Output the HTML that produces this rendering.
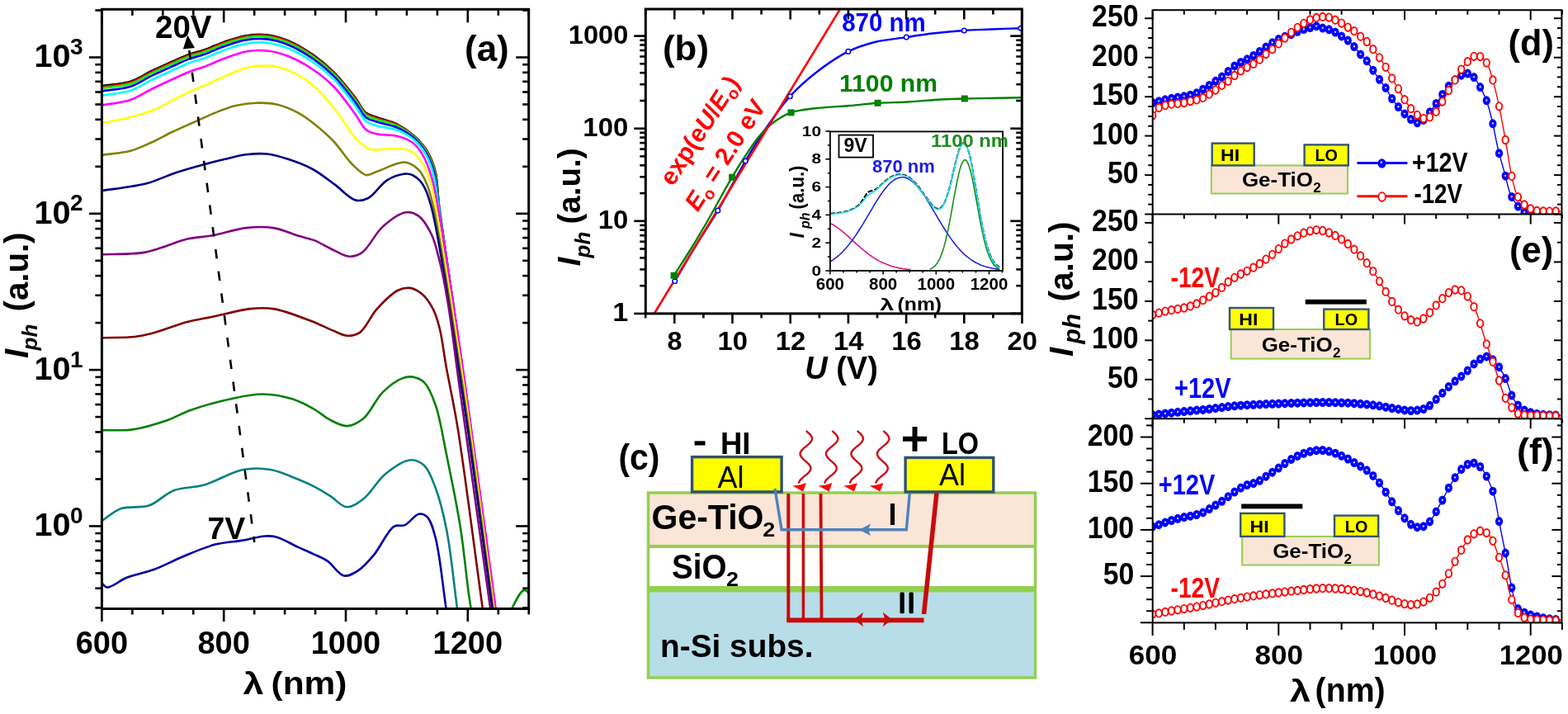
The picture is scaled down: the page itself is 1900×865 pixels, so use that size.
<!DOCTYPE html>
<html><head><meta charset="utf-8"><title>Figure</title><style>html,body{margin:0;padding:0;background:#fff;width:1900px;height:865px;overflow:hidden}svg{display:block}</style></head><body>
<svg width="1900" height="865" viewBox="0 0 1900 865">
<rect width="1900" height="865" fill="#fff"/>
<defs><clipPath id="ca"><rect x="123.4" y="11.3" width="517.3" height="726.2"/></clipPath></defs>
<g clip-path="url(#ca)" fill="none" stroke-width="2.6" stroke-linejoin="round">
<path d="M123.4,104 C135,102.2 147.7,102 158.2,98.7 C167.6,95.7 175.1,90.1 183.6,86 C192,82 201,78.1 209,74.5 C216.2,71.3 222.8,68 229.4,65.6 C235.5,63.4 240.8,62.7 247.2,60.5 C255,57.8 264.1,53.3 272.7,50.4 C281.1,47.6 289.5,44.6 298.1,43.2 C306.5,41.9 315.2,41.2 323.6,42.2 C332.2,43.2 340.3,45.5 349,49.1 C359.1,53.3 370.5,60.2 380,66.9 C389.2,73.4 397.3,80.3 405.4,88.5 C414.3,97.5 424,110.1 430.9,119 C436,125.6 438.7,133.1 443.6,136.9 C447.4,139.9 451.3,140.1 456.3,142 C463.3,144.6 474,147 481.8,150.9 C489.2,154.7 496.1,159.5 502.1,164.9 C507.9,170.2 513.2,175.9 517.4,182.7 C521.9,190.1 525.2,198.3 527.6,208 C530.6,220.1 529.8,230.7 532.2,250 C537.7,293.3 551.8,385 562.3,460 C574.4,546.6 587.6,646.7 600.3,740" stroke="#000000"/>
<path d="M123.4,105.4 C135,103.6 147.7,103.4 158.2,100 C167.6,97 175.1,91.4 183.6,87.3 C192,83.3 201,79.4 209,75.8 C216.2,72.6 222.8,69.3 229.4,66.9 C235.5,64.7 240.8,63.9 247.2,61.7 C255,59.1 264.1,54.5 272.7,51.6 C281.1,48.7 289.5,45.7 298.1,44.4 C306.5,43 315.2,42.4 323.6,43.4 C332.1,44.3 340.3,46.7 349,50.2 C359.1,54.4 370.5,61.3 380,68 C389.2,74.4 397.3,81.3 405.4,89.5 C414.3,98.5 424,111.2 430.9,120.2 C436,126.9 438.7,134.3 443.6,138.1 C447.4,141.1 451.3,141.4 456.3,143.2 C463.3,145.8 474,147.9 481.8,151.7 C489.2,155.4 496,160.1 502,165.4 C507.7,170.5 513,176.2 517.1,183 C521.6,190.4 524.8,198.6 527.3,208.3 C530.3,220.3 529.6,230.8 532.1,250 C537.7,293.2 551.8,385 562.3,460 C574.4,546.6 587.7,646.7 600.3,740" stroke="#ff0000"/>
<path d="M123.4,107.1 C135,105.2 147.7,105 158.2,101.6 C167.6,98.6 175.1,92.9 183.6,88.9 C192,84.8 201,80.9 209,77.3 C216.2,74.1 222.8,70.8 229.4,68.4 C235.5,66.2 240.8,65.4 247.2,63.2 C255,60.5 264.1,55.9 272.7,53 C281.1,50.1 289.5,47.1 298.1,45.7 C306.5,44.4 315.2,43.8 323.6,44.7 C332.1,45.7 340.3,48 349,51.6 C359.1,55.7 370.5,62.5 380,69.2 C389.2,75.7 397.3,82.5 405.4,90.8 C414.3,99.8 424,112.6 430.9,121.6 C436,128.3 438.7,135.7 443.6,139.5 C447.4,142.6 451.3,142.8 456.3,144.6 C463.3,147.1 474.1,149 481.8,152.7 C489.1,156.2 495.9,160.7 501.8,165.9 C507.5,171 512.6,176.6 516.7,183.4 C521.2,190.7 524.4,199 526.9,208.7 C530,220.6 529.4,230.9 532,250 C537.7,293 551.8,384.9 562.4,460 C574.5,546.6 587.7,646.7 600.4,740" stroke="#00ff00"/>
<path d="M123.4,110.3 C135,108.5 147.7,108.1 158.2,104.7 C167.6,101.7 175.1,96 183.6,91.9 C192,87.9 201,83.9 209,80.3 C216.2,77.1 222.8,73.8 229.4,71.4 C235.5,69.1 240.8,68.3 247.2,66 C255,63.3 264.1,58.8 272.7,55.8 C281.1,52.9 289.5,49.8 298.1,48.4 C306.5,47 315.2,46.5 323.6,47.4 C332.1,48.4 340.3,50.7 349,54.2 C359.1,58.3 370.5,65.1 380,71.7 C389.2,78.1 397.3,85 405.4,93.2 C414.3,102.3 424,115.3 430.9,124.4 C436,131.1 438.7,138.5 443.6,142.4 C447.4,145.4 451.3,145.8 456.3,147.5 C463.3,149.9 474.1,151.3 481.8,154.7 C489,157.9 495.7,162 501.4,167 C507.1,171.8 512,177.4 516,184.1 C520.4,191.4 523.7,199.7 526.2,209.3 C529.3,221.1 529.1,231.2 531.7,250 C537.8,292.8 551.9,384.9 562.4,460 C574.6,546.6 587.8,646.7 600.5,740" stroke="#0000ff"/>
<path d="M123.4,115.8 C135,113.8 147.7,113.3 158.2,109.8 C167.6,106.8 175.1,101.1 183.6,97 C192,92.9 201,88.9 209,85.2 C216.2,82 222.8,78.8 229.4,76.3 C235.5,74 240.8,73 247.2,70.8 C255,68 264.1,63.5 272.7,60.5 C281.1,57.5 289.5,54.3 298.1,52.9 C306.5,51.5 315.2,50.9 323.6,51.9 C332.1,52.8 340.3,55.1 349,58.5 C359.1,62.6 370.5,69.2 380,75.8 C389.2,82.2 397.3,89 405.4,97.2 C414.4,106.4 424,119.8 430.9,129 C436,135.8 438.7,143.2 443.6,147.1 C447.4,150.1 451.3,150.6 456.3,152.2 C463.3,154.3 474.1,154.9 481.8,157.9 C488.8,160.6 495.3,164.1 500.9,168.7 C506.3,173.3 511,178.8 514.8,185.2 C519.2,192.5 522.4,201 525,210.5 C528.3,222 528.5,231.6 531.4,250 C537.9,292.3 551.9,384.9 562.5,460 C574.9,546.6 587.9,646.7 600.6,740" stroke="#00ffff"/>
<path d="M123.4,127.5 C135,125.3 147.7,124.6 158.2,121 C167.6,117.8 175.1,112.2 183.6,108 C192,103.9 201,99.7 209,96 C216.2,92.7 222.8,89.6 229.4,87 C235.5,84.6 240.8,83.4 247.2,81 C255,78.1 264.1,73.6 272.7,70.5 C281.1,67.5 289.5,64 298.1,62.5 C306.5,61 315.2,60.6 323.6,61.5 C332.1,62.4 340.3,64.6 349,68 C359.1,71.9 370.5,78.2 380,84.7 C389.2,91 397.4,97.6 405.4,106 C414.4,115.4 424,129.6 430.9,139 C436,145.9 438.7,153.3 443.6,157.2 C447.4,160.2 451.2,161.1 456.3,162.3 C463.2,164 474.2,162.9 481.8,164.9 C488.4,166.6 494.5,168.7 499.6,172.5 C504.7,176.3 508.7,181.7 512.3,187.8 C516.5,194.9 519.6,203.7 522.5,213 C525.9,224 527.3,232.6 530.5,250 C538.1,291.3 551.9,384.9 562.8,460 C575.4,546.6 588.3,646.7 601,740" stroke="#ff00ff"/>
<path d="M123.4,149 C135,146.7 147.6,144.7 158.2,142 C167.4,139.7 175.3,137.6 183.6,134.3 C192.2,130.9 201,125.6 209,121.6 C216.2,118 222.8,114.5 229.4,111.4 C235.5,108.6 240.8,106.6 247.2,103.8 C255,100.4 264.2,95.9 272.7,92.3 C281.1,88.7 290,84.3 298.1,82.2 C305.2,80.4 311.9,79.8 318.5,79.6 C324.6,79.4 330,79.4 336.3,80.9 C344.1,82.7 354.1,87 361.7,91.1 C368.5,94.8 373.7,98.5 380,104 C388.2,111.2 397.2,121.7 405.4,131.8 C414.2,142.7 423,158.9 430.9,167.4 C436.3,173.1 441.3,178 446.2,180.1 C449.7,181.6 452.2,181.2 456.3,181.4 C462.9,181.7 474.4,179.7 481.8,180.1 C487.5,180.4 492.3,180.3 497,182.7 C502.6,185.6 508.2,191.8 512.3,198 C516.9,205 519.9,214.7 522.5,223.4 C525,232 525.3,236.9 527.6,250 C534,286.7 549.9,384.9 561,460 C573.8,546.6 586.3,646.7 599,740" stroke="#ffff00"/>
<path d="M123.4,187.8 C135,186.1 147.7,185.5 158.2,182.7 C167.5,180.2 175.2,176.3 183.6,172.5 C192.1,168.7 200.5,163.8 209,159.8 C217.5,155.8 226,152.1 234.5,148.3 C243,144.5 251.4,140.3 260,136.9 C268.4,133.6 276.8,130 285.4,128 C293.8,126 302.3,124.9 310.8,124.7 C319.3,124.5 328,124.7 336.3,126.7 C344.9,128.7 354.1,132.8 361.7,136.9 C368.5,140.6 373.6,144.5 380,149.6 C388,155.9 397.7,164.3 405.4,172.5 C412.9,180.5 418.8,191.1 425.8,198 C431.6,203.8 437.9,211 443.6,212 C448,212.8 451.4,209.7 456.3,208 C463.4,205.5 475.1,199.7 481.8,198 C485.9,197 488.4,196 492,196.7 C496.7,197.7 503.1,201.4 507.2,205.6 C511.7,210.1 514.6,216.7 517.4,223.4 C520.7,231.2 522,236.8 525,250 C533.2,286.6 548.2,384.9 559.5,460 C572.6,546.6 585.2,646.7 598,740" stroke="#808000"/>
<path d="M123.4,231 C135,229.3 148.2,227.7 158.2,226 C165.9,224.7 171.1,224.2 178.5,222.1 C187.7,219.5 199.8,213.9 209,210.7 C216.4,208.1 222.8,206.3 229.4,204.3 C235.5,202.5 240.7,200.9 247.2,199.2 C254.9,197.1 264.2,194.8 272.7,192.8 C281.2,190.8 289.6,188.3 298.1,187.3 C306.5,186.3 315.2,185.6 323.6,186.5 C332.1,187.4 340.4,190 349,192.8 C358.5,195.9 368.7,199.5 378,204.5 C387.6,209.6 396.5,217 405.4,223.4 C414.1,229.7 423.1,240.6 430.9,242.5 C436.3,243.8 441,242.6 446.2,240 C453.6,236.3 461.1,223.2 469,218.3 C475.6,214.2 483.7,211.4 489.4,210.7 C493.3,210.2 496.2,210.5 499.6,212 C503.9,214 508.8,218.3 512.3,223.4 C516.9,230 518.9,236.7 522.5,250 C532.5,286.5 546.4,384.9 558,460 C571.3,546.5 584,646.7 597,740" stroke="#000080"/>
<path d="M123.4,308.2 C134.9,307.9 148.3,308 158,307.4 C165,307 169.9,306.8 176,305.6 C182.6,304.3 188.9,302.1 196.3,299.8 C205.5,297 216.6,292 226.9,289.6 C237,287.2 246.6,287.3 257.4,285.3 C270,283 285.1,277.5 298,276.1 C309.5,274.8 320.5,274.4 331.2,276.1 C341.7,277.7 352.8,283.1 361.7,285.8 C368.6,287.8 373.5,288.4 380,290.9 C387.9,293.9 397.6,300.1 405.4,303.6 C411.8,306.5 417.5,310.4 423.3,310.7 C428.5,310.9 433.3,309.7 438.5,306.2 C446.8,300.6 454.5,282.8 464,274.4 C472.5,266.9 483.9,258.4 492,257.3 C497.6,256.5 502.6,258.4 507.2,261.6 C513.1,265.8 518.4,274.9 522.5,283.3 C527.2,292.8 529.6,304 532.7,316.3 C536.5,331.3 539.5,347.6 542.8,367.2 C547.2,393.5 550.2,420.7 555.6,460 C565.1,528.2 581.6,646.7 594.6,740" stroke="#800080"/>
<path d="M123.4,409.2 C136.7,408.8 152.3,409.2 163.3,408 C171.2,407.1 175.6,406.1 183.6,404.1 C195.4,401.1 213.6,393.6 226.9,390.1 C237.9,387.2 246.2,386.1 257.4,383.8 C271.1,380.9 289.7,375.5 303.2,374.1 C313.6,373 320.9,372.5 331.2,374.1 C344.5,376.2 362.7,383.5 376,388.5 C386.9,392.6 397.1,398 405.4,401.3 C411.3,403.6 415.6,406.5 420.7,406.7 C425.8,406.9 431.1,406.1 436,402.8 C443.2,397.9 448.7,383.4 456.3,374.9 C463.9,366.5 473.9,356 481.8,352 C487.1,349.3 492,348.2 497,348.9 C502.2,349.7 507.8,353.1 512.3,357 C517.3,361.4 521.6,368.3 525,374.9 C528.5,381.8 530.4,388.7 532.7,397.8 C536,410.8 537.8,428.4 541,446 C544.9,467.4 549.4,486.7 554.4,517.1 C563.1,570.7 574.9,665.7 585.2,740" stroke="#800000"/>
<path d="M123.4,521.1 C135.7,520.9 147.5,522.2 160.2,520.4 C174.2,518.4 191.2,513.1 203.8,508.7 C214,505.1 220.2,500.7 230.7,497 C244.7,492 265.4,486.2 281,482.9 C294.2,480.1 305.6,477.4 317.9,477.5 C330.2,477.6 343.8,480.1 354.7,483.5 C364.1,486.4 372.2,490.9 380,495.3 C387.3,499.4 393.2,505.2 400.1,508.7 C406.6,512 413.5,516.3 420.2,516.1 C427,515.9 434,512.1 440.4,507 C448.9,500.1 455.3,483.6 463.8,475.2 C471.1,468 480.2,461.2 487.3,458.4 C492.1,456.5 496.3,456 500.7,456.7 C505.3,457.5 510.2,459.5 514.1,463.4 C519.7,469 523.7,479.2 527.6,490.2 C533.2,506 536.5,528.6 541,550.6 C546.4,577 553.2,609.2 557.7,637.8 C562,665.1 565.3,700 567.8,718.3 C569.1,727.8 570,732.8 571.1,740" stroke="#008000"/>
<path d="M123.4,631.1 C131.2,626.1 137.9,619.1 146.8,616 C156.6,612.6 169.9,616.1 180.4,612.6 C191.1,609 199.5,598.4 210.5,594.2 C221.8,589.9 234.5,591.2 247.4,587.5 C262.3,583.3 279.8,571.8 294.4,569 C306.3,566.7 316.9,567.1 327.9,569 C339.2,570.9 351.9,577 361.4,580.8 C368.6,583.7 373.8,586 380,589.2 C386.7,592.6 393.5,596.8 400.1,600.9 C406.9,605.1 413.4,613.9 420.2,614.3 C426.8,614.7 433.7,609.4 440.4,604.3 C449.4,597.4 457.3,582.1 467.2,574.1 C476.4,566.7 488.7,557.8 497.4,557.3 C503.7,556.9 509.4,559.7 514.1,564 C520.1,569.5 523.6,580.2 527.6,590.8 C532.9,604.7 537.1,621.5 541,641.2 C546.5,668.5 549.9,707.1 554.4,740" stroke="#008080"/>
<path d="M123.4,706.5 C125.6,708.2 127,711.3 130,711.6 C135.3,712.1 144.8,703.2 153.5,699.8 C163.5,695.8 176,693.9 187,689.8 C198.3,685.6 208.8,679.6 220.6,674.7 C233.3,669.5 247.8,663 260.8,659.6 C272.3,656.6 283.8,656.4 294.4,654.6 C303.9,653 313.8,649.9 321.2,649.5 C326.4,649.2 329.5,649.2 334.6,650.5 C342.2,652.5 353.3,659.2 361.4,662.9 C368.2,666 374,668.4 380,671.3 C385.8,674 391.2,675.9 396.8,679.7 C403.5,684.2 410.1,696.2 416.9,697.5 C422.4,698.6 428.2,694.9 433.7,691.4 C440.6,687 447.2,679.2 453.8,671.3 C461.7,661.8 469.5,642.5 477.3,637.8 C481.8,635.1 486.3,638 490.7,636.1 C496.3,633.7 502.3,623.6 507.4,622.7 C511,622.1 514.6,623.4 517.5,626.1 C522.1,630.4 524.6,640 527.6,651.2 C533.1,671.5 536.5,710.4 541,740" stroke="#0000a0"/>
<path d="M619,740 C624,730 630,716 635,715 C638,714 640,718 642,721" stroke="#008000"/>
</g>
<path d="M229.3,61 L308.3,657" stroke="#000" stroke-width="2.6" stroke-dasharray="11.5,15.5" fill="none"/>
<path d="M227.3,42.5 L221.8,59.5 L236,58 Z" fill="#000"/>
<line x1="123.4" y1="737.5" x2="123.4" y2="753" stroke="#000" stroke-width="2.6"/>
<line x1="123.4" y1="11.3" x2="123.4" y2="27.3" stroke="#000" stroke-width="2.6"/>
<line x1="160.4" y1="737.5" x2="160.4" y2="744.5" stroke="#000" stroke-width="2.6"/>
<line x1="160.4" y1="11.3" x2="160.4" y2="18.8" stroke="#000" stroke-width="2.6"/>
<line x1="197.3" y1="737.5" x2="197.3" y2="744.5" stroke="#000" stroke-width="2.6"/>
<line x1="197.3" y1="11.3" x2="197.3" y2="18.8" stroke="#000" stroke-width="2.6"/>
<line x1="234.3" y1="737.5" x2="234.3" y2="744.5" stroke="#000" stroke-width="2.6"/>
<line x1="234.3" y1="11.3" x2="234.3" y2="18.8" stroke="#000" stroke-width="2.6"/>
<line x1="271.2" y1="737.5" x2="271.2" y2="753" stroke="#000" stroke-width="2.6"/>
<line x1="271.2" y1="11.3" x2="271.2" y2="27.3" stroke="#000" stroke-width="2.6"/>
<line x1="308.2" y1="737.5" x2="308.2" y2="744.5" stroke="#000" stroke-width="2.6"/>
<line x1="308.2" y1="11.3" x2="308.2" y2="18.8" stroke="#000" stroke-width="2.6"/>
<line x1="345.1" y1="737.5" x2="345.1" y2="744.5" stroke="#000" stroke-width="2.6"/>
<line x1="345.1" y1="11.3" x2="345.1" y2="18.8" stroke="#000" stroke-width="2.6"/>
<line x1="382.1" y1="737.5" x2="382.1" y2="744.5" stroke="#000" stroke-width="2.6"/>
<line x1="382.1" y1="11.3" x2="382.1" y2="18.8" stroke="#000" stroke-width="2.6"/>
<line x1="419" y1="737.5" x2="419" y2="753" stroke="#000" stroke-width="2.6"/>
<line x1="419" y1="11.3" x2="419" y2="27.3" stroke="#000" stroke-width="2.6"/>
<line x1="456" y1="737.5" x2="456" y2="744.5" stroke="#000" stroke-width="2.6"/>
<line x1="456" y1="11.3" x2="456" y2="18.8" stroke="#000" stroke-width="2.6"/>
<line x1="492.9" y1="737.5" x2="492.9" y2="744.5" stroke="#000" stroke-width="2.6"/>
<line x1="492.9" y1="11.3" x2="492.9" y2="18.8" stroke="#000" stroke-width="2.6"/>
<line x1="529.9" y1="737.5" x2="529.9" y2="744.5" stroke="#000" stroke-width="2.6"/>
<line x1="529.9" y1="11.3" x2="529.9" y2="18.8" stroke="#000" stroke-width="2.6"/>
<line x1="566.8" y1="737.5" x2="566.8" y2="753" stroke="#000" stroke-width="2.6"/>
<line x1="566.8" y1="11.3" x2="566.8" y2="27.3" stroke="#000" stroke-width="2.6"/>
<line x1="603.8" y1="737.5" x2="603.8" y2="744.5" stroke="#000" stroke-width="2.6"/>
<line x1="603.8" y1="11.3" x2="603.8" y2="18.8" stroke="#000" stroke-width="2.6"/>
<line x1="640.7" y1="737.5" x2="640.7" y2="744.5" stroke="#000" stroke-width="2.6"/>
<line x1="640.7" y1="11.3" x2="640.7" y2="18.8" stroke="#000" stroke-width="2.6"/>
<line x1="123.4" y1="736.4" x2="115.4" y2="736.4" stroke="#000" stroke-width="2.6"/>
<line x1="640.7" y1="736.4" x2="633.2" y2="736.4" stroke="#000" stroke-width="2.6"/>
<line x1="123.4" y1="712.7" x2="115.4" y2="712.7" stroke="#000" stroke-width="2.6"/>
<line x1="640.7" y1="712.7" x2="633.2" y2="712.7" stroke="#000" stroke-width="2.6"/>
<line x1="123.4" y1="694.4" x2="115.4" y2="694.4" stroke="#000" stroke-width="2.6"/>
<line x1="640.7" y1="694.4" x2="633.2" y2="694.4" stroke="#000" stroke-width="2.6"/>
<line x1="123.4" y1="679.4" x2="115.4" y2="679.4" stroke="#000" stroke-width="2.6"/>
<line x1="640.7" y1="679.4" x2="633.2" y2="679.4" stroke="#000" stroke-width="2.6"/>
<line x1="123.4" y1="666.7" x2="115.4" y2="666.7" stroke="#000" stroke-width="2.6"/>
<line x1="640.7" y1="666.7" x2="633.2" y2="666.7" stroke="#000" stroke-width="2.6"/>
<line x1="123.4" y1="655.7" x2="115.4" y2="655.7" stroke="#000" stroke-width="2.6"/>
<line x1="640.7" y1="655.7" x2="633.2" y2="655.7" stroke="#000" stroke-width="2.6"/>
<line x1="123.4" y1="646.1" x2="115.4" y2="646.1" stroke="#000" stroke-width="2.6"/>
<line x1="640.7" y1="646.1" x2="633.2" y2="646.1" stroke="#000" stroke-width="2.6"/>
<line x1="123.4" y1="637.4" x2="107.9" y2="637.4" stroke="#000" stroke-width="2.6"/>
<line x1="640.7" y1="637.4" x2="625.2" y2="637.4" stroke="#000" stroke-width="2.6"/>
<line x1="123.4" y1="580.4" x2="115.4" y2="580.4" stroke="#000" stroke-width="2.6"/>
<line x1="640.7" y1="580.4" x2="633.2" y2="580.4" stroke="#000" stroke-width="2.6"/>
<line x1="123.4" y1="547.1" x2="115.4" y2="547.1" stroke="#000" stroke-width="2.6"/>
<line x1="640.7" y1="547.1" x2="633.2" y2="547.1" stroke="#000" stroke-width="2.6"/>
<line x1="123.4" y1="523.4" x2="115.4" y2="523.4" stroke="#000" stroke-width="2.6"/>
<line x1="640.7" y1="523.4" x2="633.2" y2="523.4" stroke="#000" stroke-width="2.6"/>
<line x1="123.4" y1="505.1" x2="115.4" y2="505.1" stroke="#000" stroke-width="2.6"/>
<line x1="640.7" y1="505.1" x2="633.2" y2="505.1" stroke="#000" stroke-width="2.6"/>
<line x1="123.4" y1="490.1" x2="115.4" y2="490.1" stroke="#000" stroke-width="2.6"/>
<line x1="640.7" y1="490.1" x2="633.2" y2="490.1" stroke="#000" stroke-width="2.6"/>
<line x1="123.4" y1="477.4" x2="115.4" y2="477.4" stroke="#000" stroke-width="2.6"/>
<line x1="640.7" y1="477.4" x2="633.2" y2="477.4" stroke="#000" stroke-width="2.6"/>
<line x1="123.4" y1="466.4" x2="115.4" y2="466.4" stroke="#000" stroke-width="2.6"/>
<line x1="640.7" y1="466.4" x2="633.2" y2="466.4" stroke="#000" stroke-width="2.6"/>
<line x1="123.4" y1="456.8" x2="115.4" y2="456.8" stroke="#000" stroke-width="2.6"/>
<line x1="640.7" y1="456.8" x2="633.2" y2="456.8" stroke="#000" stroke-width="2.6"/>
<line x1="123.4" y1="448.1" x2="107.9" y2="448.1" stroke="#000" stroke-width="2.6"/>
<line x1="640.7" y1="448.1" x2="625.2" y2="448.1" stroke="#000" stroke-width="2.6"/>
<line x1="123.4" y1="391.1" x2="115.4" y2="391.1" stroke="#000" stroke-width="2.6"/>
<line x1="640.7" y1="391.1" x2="633.2" y2="391.1" stroke="#000" stroke-width="2.6"/>
<line x1="123.4" y1="357.8" x2="115.4" y2="357.8" stroke="#000" stroke-width="2.6"/>
<line x1="640.7" y1="357.8" x2="633.2" y2="357.8" stroke="#000" stroke-width="2.6"/>
<line x1="123.4" y1="334.1" x2="115.4" y2="334.1" stroke="#000" stroke-width="2.6"/>
<line x1="640.7" y1="334.1" x2="633.2" y2="334.1" stroke="#000" stroke-width="2.6"/>
<line x1="123.4" y1="315.8" x2="115.4" y2="315.8" stroke="#000" stroke-width="2.6"/>
<line x1="640.7" y1="315.8" x2="633.2" y2="315.8" stroke="#000" stroke-width="2.6"/>
<line x1="123.4" y1="300.8" x2="115.4" y2="300.8" stroke="#000" stroke-width="2.6"/>
<line x1="640.7" y1="300.8" x2="633.2" y2="300.8" stroke="#000" stroke-width="2.6"/>
<line x1="123.4" y1="288.1" x2="115.4" y2="288.1" stroke="#000" stroke-width="2.6"/>
<line x1="640.7" y1="288.1" x2="633.2" y2="288.1" stroke="#000" stroke-width="2.6"/>
<line x1="123.4" y1="277.1" x2="115.4" y2="277.1" stroke="#000" stroke-width="2.6"/>
<line x1="640.7" y1="277.1" x2="633.2" y2="277.1" stroke="#000" stroke-width="2.6"/>
<line x1="123.4" y1="267.5" x2="115.4" y2="267.5" stroke="#000" stroke-width="2.6"/>
<line x1="640.7" y1="267.5" x2="633.2" y2="267.5" stroke="#000" stroke-width="2.6"/>
<line x1="123.4" y1="258.8" x2="107.9" y2="258.8" stroke="#000" stroke-width="2.6"/>
<line x1="640.7" y1="258.8" x2="625.2" y2="258.8" stroke="#000" stroke-width="2.6"/>
<line x1="123.4" y1="201.8" x2="115.4" y2="201.8" stroke="#000" stroke-width="2.6"/>
<line x1="640.7" y1="201.8" x2="633.2" y2="201.8" stroke="#000" stroke-width="2.6"/>
<line x1="123.4" y1="168.5" x2="115.4" y2="168.5" stroke="#000" stroke-width="2.6"/>
<line x1="640.7" y1="168.5" x2="633.2" y2="168.5" stroke="#000" stroke-width="2.6"/>
<line x1="123.4" y1="144.8" x2="115.4" y2="144.8" stroke="#000" stroke-width="2.6"/>
<line x1="640.7" y1="144.8" x2="633.2" y2="144.8" stroke="#000" stroke-width="2.6"/>
<line x1="123.4" y1="126.5" x2="115.4" y2="126.5" stroke="#000" stroke-width="2.6"/>
<line x1="640.7" y1="126.5" x2="633.2" y2="126.5" stroke="#000" stroke-width="2.6"/>
<line x1="123.4" y1="111.5" x2="115.4" y2="111.5" stroke="#000" stroke-width="2.6"/>
<line x1="640.7" y1="111.5" x2="633.2" y2="111.5" stroke="#000" stroke-width="2.6"/>
<line x1="123.4" y1="98.8" x2="115.4" y2="98.8" stroke="#000" stroke-width="2.6"/>
<line x1="640.7" y1="98.8" x2="633.2" y2="98.8" stroke="#000" stroke-width="2.6"/>
<line x1="123.4" y1="87.8" x2="115.4" y2="87.8" stroke="#000" stroke-width="2.6"/>
<line x1="640.7" y1="87.8" x2="633.2" y2="87.8" stroke="#000" stroke-width="2.6"/>
<line x1="123.4" y1="78.2" x2="115.4" y2="78.2" stroke="#000" stroke-width="2.6"/>
<line x1="640.7" y1="78.2" x2="633.2" y2="78.2" stroke="#000" stroke-width="2.6"/>
<line x1="123.4" y1="69.5" x2="107.9" y2="69.5" stroke="#000" stroke-width="2.6"/>
<line x1="640.7" y1="69.5" x2="625.2" y2="69.5" stroke="#000" stroke-width="2.6"/>
<line x1="123.4" y1="12.5" x2="115.4" y2="12.5" stroke="#000" stroke-width="2.6"/>
<line x1="640.7" y1="12.5" x2="633.2" y2="12.5" stroke="#000" stroke-width="2.6"/>
<rect x="123.4" y="11.3" width="517.3" height="726.2" fill="none" stroke="#000" stroke-width="3"/>
<text x="41.6" y="649.2" font-family="'Liberation Sans', Arial, sans-serif" font-weight="bold" font-size="39" textLength="44" lengthAdjust="spacingAndGlyphs">10</text>
<text x="85" y="633.8" font-size="28" font-weight="bold" fill="#000" text-anchor="start" font-family="'Liberation Sans', Arial, sans-serif">0</text>
<text x="41.6" y="459.9" font-family="'Liberation Sans', Arial, sans-serif" font-weight="bold" font-size="39" textLength="44" lengthAdjust="spacingAndGlyphs">10</text>
<text x="85" y="444.5" font-size="28" font-weight="bold" fill="#000" text-anchor="start" font-family="'Liberation Sans', Arial, sans-serif">1</text>
<text x="41.6" y="270.6" font-family="'Liberation Sans', Arial, sans-serif" font-weight="bold" font-size="39" textLength="44" lengthAdjust="spacingAndGlyphs">10</text>
<text x="85" y="255.2" font-size="28" font-weight="bold" fill="#000" text-anchor="start" font-family="'Liberation Sans', Arial, sans-serif">2</text>
<text x="41.6" y="81.3" font-family="'Liberation Sans', Arial, sans-serif" font-weight="bold" font-size="39" textLength="44" lengthAdjust="spacingAndGlyphs">10</text>
<text x="85" y="65.9" font-size="28" font-weight="bold" fill="#000" text-anchor="start" font-family="'Liberation Sans', Arial, sans-serif">3</text>
<text x="123.4" y="792.2" font-size="38" font-weight="bold" fill="#000" text-anchor="middle" font-family="'Liberation Sans', Arial, sans-serif">600</text>
<text x="271.2" y="792.2" font-size="38" font-weight="bold" fill="#000" text-anchor="middle" font-family="'Liberation Sans', Arial, sans-serif">800</text>
<text x="419" y="792.2" font-size="38" font-weight="bold" fill="#000" text-anchor="middle" font-family="'Liberation Sans', Arial, sans-serif">1000</text>
<text x="566.8" y="792.2" font-size="38" font-weight="bold" fill="#000" text-anchor="middle" font-family="'Liberation Sans', Arial, sans-serif">1200</text>
<text x="294.5" y="841.2" font-family="'Liberation Sans', Arial, sans-serif" font-weight="bold" font-size="37" textLength="25" lengthAdjust="spacingAndGlyphs">&#955;</text>
<text x="328.5" y="841.2" font-family="'Liberation Sans', Arial, sans-serif" font-weight="bold" font-size="39.5" textLength="92" lengthAdjust="spacingAndGlyphs">(nm)</text>
<text transform="translate(34,434) rotate(-90)" font-family="'Liberation Sans', Arial, sans-serif" font-weight="bold" font-style="italic" font-size="40">I</text>
<text transform="translate(45,424.5) rotate(-90)" font-family="'Liberation Sans', Arial, sans-serif" font-weight="bold" font-style="italic" font-size="26">ph</text>
<text transform="translate(34,377.5) rotate(-90)" font-family="'Liberation Sans', Arial, sans-serif" font-weight="bold" font-size="40" textLength="96" lengthAdjust="spacingAndGlyphs">(a.u.)</text>
<text x="563" y="74.2" font-size="44" font-weight="bold" fill="#000" text-anchor="start" font-family="'Liberation Sans', Arial, sans-serif">(a)</text>
<text x="188" y="46.1" font-size="38.5" font-weight="bold" fill="#000" text-anchor="start" font-family="'Liberation Sans', Arial, sans-serif">20V</text>
<text x="251.5" y="652.9" font-size="37.5" font-weight="bold" fill="#000" text-anchor="start" font-family="'Liberation Sans', Arial, sans-serif">7V</text>
<defs><clipPath id="cb"><rect x="782.3" y="11" width="456" height="368.9"/></clipPath></defs>
<g clip-path="url(#cb)">
<path d="M817.7,340.7 C826.1,326.5 834.4,312.2 843,298 C851.7,283.7 860.6,270.7 869.8,255.1 C880.6,236.9 893.2,212.2 903.3,195 C911.1,181.7 916.8,172.1 925,160 C934.4,146.1 945.9,129.3 957.3,116.7 C967.6,105.3 978.3,96 990,87 C1001.8,77.9 1015.3,68.6 1027.8,62.4 C1038.6,57 1048.7,53.9 1060,51 C1072.1,48 1086.1,46.9 1098.3,45.1 C1109.4,43.4 1118.9,41.8 1130,40.5 C1142.1,39.1 1156.1,37.8 1168.3,37 C1179.4,36.2 1189,36 1200,35.5 C1211.9,35 1224.7,34.6 1237,34.2" stroke="#0000ff" stroke-width="2.4" fill="none"/>
<path d="M816.6,333.8 C824.4,321.5 832.6,309.1 840,297 C847,285.5 852.9,275.4 860,263 C868.4,248.3 878.9,228.6 887.1,214.7 C893.5,203.8 899.2,194.7 905,186 C910.1,178.4 914.7,171.2 920,165 C924.8,159.4 929.1,154.5 935,150 C941.7,144.9 949.8,139.6 958.5,136.4 C968,133 978.8,132.4 990,131 C1002.5,129.5 1017.3,129.1 1030,128 C1041.7,127 1052.2,125.5 1063.6,124.8 C1075.5,124 1087.6,124.2 1100,123.5 C1113,122.8 1127.8,121.2 1140,120.5 C1150.4,119.9 1159,119.7 1168.8,119.5 C1179,119.2 1189.2,119.2 1200,119 C1211.8,118.8 1224.7,118.5 1237,118.3" stroke="#008000" stroke-width="2.4" fill="none"/>
<path d="M792.7,380 L1018,11" stroke="#ff0000" stroke-width="2.6" fill="none"/>
<circle cx="817.7" cy="340.7" r="2.8" fill="#fff" stroke="#0000ff" stroke-width="1.5"/>
<circle cx="869.8" cy="255.1" r="2.8" fill="#fff" stroke="#0000ff" stroke-width="1.5"/>
<circle cx="903.3" cy="195" r="2.8" fill="#fff" stroke="#0000ff" stroke-width="1.5"/>
<circle cx="957.3" cy="116.7" r="2.8" fill="#fff" stroke="#0000ff" stroke-width="1.5"/>
<circle cx="1027.8" cy="62.4" r="2.8" fill="#fff" stroke="#0000ff" stroke-width="1.5"/>
<circle cx="1098.3" cy="45.1" r="2.8" fill="#fff" stroke="#0000ff" stroke-width="1.5"/>
<circle cx="1168.3" cy="37" r="2.8" fill="#fff" stroke="#0000ff" stroke-width="1.5"/>
<circle cx="1237" cy="34.2" r="2.8" fill="#fff" stroke="#0000ff" stroke-width="1.5"/>
<rect x="812.6" y="329.8" width="8" height="8" fill="#008000"/>
<rect x="883.1" y="210.7" width="8" height="8" fill="#008000"/>
<rect x="954.5" y="132.4" width="8" height="8" fill="#008000"/>
<rect x="1059.6" y="120.8" width="8" height="8" fill="#008000"/>
<rect x="1164.8" y="115.5" width="8" height="8" fill="#008000"/>
</g>
<text x="1020.2" y="37.5" font-family="'Liberation Sans', Arial, sans-serif" font-weight="bold" font-size="31" fill="#0000ff" textLength="101.5" lengthAdjust="spacingAndGlyphs">870 nm</text>
<text x="1017" y="111" font-family="'Liberation Sans', Arial, sans-serif" font-weight="bold" font-size="30" fill="#008000" textLength="119" lengthAdjust="spacingAndGlyphs">1100 nm</text>
<text transform="translate(815.2,226.8) rotate(-57)" font-family="'Liberation Sans', Arial, sans-serif" font-weight="bold" font-size="30" fill="#ff0000">exp(e<tspan font-style="italic">U</tspan>/<tspan font-style="italic">E</tspan><tspan font-size="20" dy="6">o</tspan><tspan dy="-6">)</tspan></text>
<text transform="translate(845.4,257.5) rotate(-57)" font-family="'Liberation Sans', Arial, sans-serif" font-weight="bold" font-size="30" fill="#ff0000"><tspan font-style="italic">E</tspan><tspan font-size="20" dy="6">o</tspan><tspan dy="-6"> = 2.0 eV</tspan></text>
<rect x="1005.9" y="159.4" width="209.2" height="168.6" fill="#fff" stroke="none"/>
<line x1="1005.9" y1="328" x2="1005.9" y2="332.5" stroke="#000" stroke-width="1.6"/>
<line x1="1021.9" y1="328" x2="1021.9" y2="330.5" stroke="#000" stroke-width="1.6"/>
<line x1="1038" y1="328" x2="1038" y2="330.5" stroke="#000" stroke-width="1.6"/>
<line x1="1054" y1="328" x2="1054" y2="330.5" stroke="#000" stroke-width="1.6"/>
<line x1="1070.1" y1="328" x2="1070.1" y2="332.5" stroke="#000" stroke-width="1.6"/>
<line x1="1086.2" y1="328" x2="1086.2" y2="330.5" stroke="#000" stroke-width="1.6"/>
<line x1="1102.2" y1="328" x2="1102.2" y2="330.5" stroke="#000" stroke-width="1.6"/>
<line x1="1118.2" y1="328" x2="1118.2" y2="330.5" stroke="#000" stroke-width="1.6"/>
<line x1="1134.3" y1="328" x2="1134.3" y2="332.5" stroke="#000" stroke-width="1.6"/>
<line x1="1150.3" y1="328" x2="1150.3" y2="330.5" stroke="#000" stroke-width="1.6"/>
<line x1="1166.4" y1="328" x2="1166.4" y2="330.5" stroke="#000" stroke-width="1.6"/>
<line x1="1182.5" y1="328" x2="1182.5" y2="330.5" stroke="#000" stroke-width="1.6"/>
<line x1="1198.5" y1="328" x2="1198.5" y2="332.5" stroke="#000" stroke-width="1.6"/>
<line x1="1214.5" y1="328" x2="1214.5" y2="330.5" stroke="#000" stroke-width="1.6"/>
<line x1="1005.9" y1="328" x2="1000.4" y2="328" stroke="#000" stroke-width="1.6"/>
<line x1="1005.9" y1="311.1" x2="1002.9" y2="311.1" stroke="#000" stroke-width="1.6"/>
<line x1="1005.9" y1="294.2" x2="1000.4" y2="294.2" stroke="#000" stroke-width="1.6"/>
<line x1="1005.9" y1="277.3" x2="1002.9" y2="277.3" stroke="#000" stroke-width="1.6"/>
<line x1="1005.9" y1="260.4" x2="1000.4" y2="260.4" stroke="#000" stroke-width="1.6"/>
<line x1="1005.9" y1="243.5" x2="1002.9" y2="243.5" stroke="#000" stroke-width="1.6"/>
<line x1="1005.9" y1="226.6" x2="1000.4" y2="226.6" stroke="#000" stroke-width="1.6"/>
<line x1="1005.9" y1="209.7" x2="1002.9" y2="209.7" stroke="#000" stroke-width="1.6"/>
<line x1="1005.9" y1="192.8" x2="1000.4" y2="192.8" stroke="#000" stroke-width="1.6"/>
<line x1="1005.9" y1="175.9" x2="1002.9" y2="175.9" stroke="#000" stroke-width="1.6"/>
<line x1="1005.9" y1="159" x2="1000.4" y2="159" stroke="#000" stroke-width="1.6"/>
<text x="995" y="333.6" font-size="16" font-weight="bold" text-anchor="end" font-family="'Liberation Sans', Arial, sans-serif" transform="translate(995,0) scale(1.3,1) translate(-995,0)">0</text>
<text x="995" y="299.8" font-size="16" font-weight="bold" text-anchor="end" font-family="'Liberation Sans', Arial, sans-serif" transform="translate(995,0) scale(1.3,1) translate(-995,0)">2</text>
<text x="995" y="266" font-size="16" font-weight="bold" text-anchor="end" font-family="'Liberation Sans', Arial, sans-serif" transform="translate(995,0) scale(1.3,1) translate(-995,0)">4</text>
<text x="995" y="232.2" font-size="16" font-weight="bold" text-anchor="end" font-family="'Liberation Sans', Arial, sans-serif" transform="translate(995,0) scale(1.3,1) translate(-995,0)">6</text>
<text x="995" y="198.4" font-size="16" font-weight="bold" text-anchor="end" font-family="'Liberation Sans', Arial, sans-serif" transform="translate(995,0) scale(1.3,1) translate(-995,0)">8</text>
<text x="995" y="164.6" font-size="16" font-weight="bold" text-anchor="end" font-family="'Liberation Sans', Arial, sans-serif" transform="translate(995,0) scale(1.3,1) translate(-995,0)">10</text>
<text x="1005.9" y="351.2" font-size="20.5" font-weight="bold" fill="#000" text-anchor="middle" font-family="'Liberation Sans', Arial, sans-serif">600</text>
<text x="1070.1" y="351.2" font-size="20.5" font-weight="bold" fill="#000" text-anchor="middle" font-family="'Liberation Sans', Arial, sans-serif">800</text>
<text x="1134.3" y="351.2" font-size="20.5" font-weight="bold" fill="#000" text-anchor="middle" font-family="'Liberation Sans', Arial, sans-serif">1000</text>
<text x="1198.5" y="351.2" font-size="20.5" font-weight="bold" fill="#000" text-anchor="middle" font-family="'Liberation Sans', Arial, sans-serif">1200</text>
<text x="1066.2" y="375.8" font-family="'Liberation Sans', Arial, sans-serif" font-weight="bold" font-size="21" textLength="17" lengthAdjust="spacingAndGlyphs">&#955;</text>
<text x="1087.6" y="375.8" font-family="'Liberation Sans', Arial, sans-serif" font-weight="bold" font-size="22" textLength="53.5" lengthAdjust="spacingAndGlyphs">(nm)</text>
<text transform="translate(974.2,288.5) rotate(-90)" font-family="'Liberation Sans', Arial, sans-serif" font-weight="bold" font-style="italic" font-size="23">I</text>
<text transform="translate(980.7,277) rotate(-90)" font-family="'Liberation Sans', Arial, sans-serif" font-weight="bold" font-style="italic" font-size="16">ph</text>
<text transform="translate(974.2,253.5) rotate(-90)" font-family="'Liberation Sans', Arial, sans-serif" font-weight="bold" font-size="23" textLength="53" lengthAdjust="spacingAndGlyphs">(a.u.)</text>
<defs><clipPath id="ci"><rect x="1005.9" y="159.4" width="209.2" height="168.6"/></clipPath></defs>
<g clip-path="url(#ci)" fill="none" stroke-width="1.6">
<polyline points="1005.9,270.5 1007.2,271.1 1008.5,271.8 1009.8,272.5 1011,273.3 1012.3,274.1 1013.6,275 1014.9,275.9 1016.2,276.8 1017.5,277.7 1018.7,278.7 1020,279.8 1021.3,280.8 1022.6,281.9 1023.9,283 1025.2,284.1 1026.4,285.3 1027.7,286.4 1029,287.6 1030.3,288.7 1031.6,289.9 1032.9,291.1 1034.1,292.3 1035.4,293.4 1036.7,294.6 1038,295.8 1039.3,296.9 1040.6,298.1 1041.9,299.2 1043.1,300.3 1044.4,301.4 1045.7,302.5 1047,303.6 1048.3,304.6 1049.6,305.6 1050.8,306.6 1052.1,307.6 1053.4,308.6 1054.7,309.5 1056,310.4 1057.3,311.3 1058.5,312.1 1059.8,312.9 1061.1,313.7 1062.4,314.5 1063.7,315.2 1065,315.9 1066.2,316.6 1067.5,317.3 1068.8,317.9 1070.1,318.5 1071.4,319.1 1072.7,319.6 1074,320.1 1075.2,320.6 1076.5,321.1 1077.8,321.6 1079.1,322 1080.4,322.4 1081.7,322.8 1082.9,323.1 1084.2,323.5 1085.5,323.8 1086.8,324.1 1088.1,324.4 1089.4,324.6 1090.6,324.9 1091.9,325.1 1093.2,325.4 1094.5,325.6 1095.8,325.7 1097.1,325.9 1098.3,326.1 1099.6,326.2 1100.9,326.4 1102.2,326.5 1103.5,326.7" stroke="#e0157f"/>
<polyline points="1005.9,317 1007.2,316.3 1008.5,315.5 1009.8,314.6 1011,313.7 1012.3,312.7 1013.6,311.7 1014.9,310.7 1016.2,309.6 1017.5,308.5 1018.7,307.3 1020,306.1 1021.3,304.8 1022.6,303.4 1023.9,302 1025.2,300.6 1026.4,299.1 1027.7,297.6 1029,296 1030.3,294.3 1031.6,292.6 1032.9,290.9 1034.1,289.1 1035.4,287.3 1036.7,285.4 1038,283.5 1039.3,281.5 1040.6,279.5 1041.9,277.5 1043.1,275.5 1044.4,273.4 1045.7,271.3 1047,269.2 1048.3,267 1049.6,264.8 1050.8,262.7 1052.1,260.5 1053.4,258.3 1054.7,256.1 1056,254 1057.3,251.8 1058.5,249.6 1059.8,247.5 1061.1,245.4 1062.4,243.3 1063.7,241.3 1065,239.3 1066.2,237.4 1067.5,235.5 1068.8,233.6 1070.1,231.9 1071.4,230.1 1072.7,228.5 1074,226.9 1075.2,225.4 1076.5,224 1077.8,222.7 1079.1,221.5 1080.4,220.3 1081.7,219.3 1082.9,218.4 1084.2,217.5 1085.5,216.8 1086.8,216.2 1088.1,215.7 1089.4,215.3 1090.6,215 1091.9,214.8 1093.2,214.8 1094.5,214.8 1095.8,215 1097.1,215.3 1098.3,215.7 1099.6,216.2 1100.9,216.8 1102.2,217.5 1103.5,218.4 1104.8,219.3 1106.1,220.3 1107.3,221.5 1108.6,222.7 1109.9,224 1111.2,225.4 1112.5,226.9 1113.8,228.5 1115,230.1 1116.3,231.9 1117.6,233.6 1118.9,235.5 1120.2,237.4 1121.5,239.3 1122.7,241.3 1124,243.3 1125.3,245.4 1126.6,247.5 1127.9,249.6 1129.2,251.8 1130.4,254 1131.7,256.1 1133,258.3 1134.3,260.5 1135.6,262.7 1136.9,264.8 1138.2,267 1139.4,269.2 1140.7,271.3 1142,273.4 1143.3,275.5 1144.6,277.5 1145.9,279.5 1147.1,281.5 1148.4,283.5 1149.7,285.4 1151,287.3 1152.3,289.1 1153.6,290.9 1154.8,292.6 1156.1,294.3 1157.4,296 1158.7,297.6 1160,299.1 1161.3,300.6 1162.5,302 1163.8,303.4 1165.1,304.8 1166.4,306.1 1167.7,307.3 1169,308.5 1170.3,309.6 1171.5,310.7 1172.8,311.7 1174.1,312.7 1175.4,313.7 1176.7,314.6 1178,315.5 1179.2,316.3 1180.5,317 1181.8,317.8 1183.1,318.5 1184.4,319.1 1185.7,319.7 1186.9,320.3 1188.2,320.9 1189.5,321.4 1190.8,321.9 1192.1,322.3 1193.4,322.8 1194.6,323.2 1195.9,323.5 1197.2,323.9 1198.5,324.2 1199.8,324.5 1201.1,324.8 1202.4,325.1 1203.6,325.3 1204.9,325.5 1206.2,325.7 1207.5,325.9 1208.8,326.1 1210.1,326.3 1211.3,326.4" stroke="#2323e0"/>
<polyline points="1126.6,326.2 1127.9,325.7 1129.2,325 1130.4,324.2 1131.7,323.2 1133,322.1 1134.3,320.6 1135.6,318.9 1136.9,316.9 1138.2,314.5 1139.4,311.7 1140.7,308.6 1142,305 1143.3,300.9 1144.6,296.4 1145.9,291.4 1147.1,286 1148.4,280.1 1149.7,273.8 1151,267.2 1152.3,260.3 1153.6,253.2 1154.8,246.1 1156.1,238.9 1157.4,231.8 1158.7,225 1160,218.6 1161.3,212.7 1162.5,207.4 1163.8,202.8 1165.1,199.1 1166.4,196.3 1167.7,194.5 1169,193.7 1170.3,193.9 1171.5,195.2 1172.8,197.6 1174.1,200.8 1175.4,205 1176.7,209.9 1178,215.6 1179.2,221.7 1180.5,228.4 1181.8,235.3 1183.1,242.5 1184.4,249.7 1185.7,256.8 1186.9,263.8 1188.2,270.6 1189.5,277 1190.8,283.1 1192.1,288.8 1193.4,294 1194.6,298.7 1195.9,303 1197.2,306.8 1198.5,310.2 1199.8,313.2 1201.1,315.7 1202.4,317.9 1203.6,319.8 1204.9,321.4 1206.2,322.7 1207.5,323.8 1208.8,324.7 1210.1,325.4 1211.3,326" stroke="#189018"/>
<polyline points="1005.9,258.9 1007.2,258.7 1008.5,258.6 1009.8,258.4 1011,258.3 1012.3,258.2 1013.6,258 1014.9,257.9 1016.2,257.7 1017.5,257.5 1018.7,257.4 1020,257.1 1021.3,256.9 1022.6,256.7 1023.9,256.4 1025.2,256 1026.4,255.7 1027.7,255.3 1029,254.9 1030.3,254.4 1031.6,253.9 1032.9,253.3 1034.1,252.7 1035.4,252 1036.7,251.3 1038,250.4 1039.3,249.5 1040.6,248.3 1041.9,247 1043.1,245.5 1044.4,243.7 1045.7,241.7 1047,239.6 1048.3,237.5 1049.6,235.6 1050.8,234 1052.1,232.8 1053.4,232 1054.7,231.5 1056,231.2 1057.3,231 1058.5,230.6 1059.8,230.1 1061.1,229.4 1062.4,228.5 1063.7,227.5 1065,226.4 1066.2,225.2 1067.5,224 1068.8,222.8 1070.1,221.7 1071.4,220.5 1072.7,219.4 1074,218.4 1075.2,217.4 1076.5,216.5 1077.8,215.6 1079.1,214.8 1080.4,214.1 1081.7,213.4 1082.9,212.8 1084.2,212.3 1085.5,211.9 1086.8,211.6 1088.1,211.4 1089.4,211.3 1090.6,211.2 1091.9,211.3 1093.2,211.4 1094.5,211.7 1095.8,212.1 1097.1,212.5 1098.3,213.1 1099.6,213.8 1100.9,214.5 1102.2,215.4 1103.5,216.3 1104.8,217.4 1106.1,218.5 1107.3,219.8 1108.6,221.1 1109.9,222.5 1111.2,224 1112.5,225.5 1113.8,227.2 1115,228.9 1116.3,230.7 1117.6,232.5 1118.9,234.4 1120.2,236.3 1121.5,238.3 1122.7,239.5 1124,241.3 1125.3,243.1 1126.6,244.8 1127.9,246.4 1129.2,248 1130.4,249.3 1131.7,250.5 1133,251.5 1134.3,252.3 1135.6,252.8 1136.9,252.9 1138.2,252.7 1139.4,252.1 1140.7,251.1 1142,249.6 1143.3,247.7 1144.6,245.2 1145.9,242.3 1147.1,238.8 1148.4,234.9 1149.7,230.5 1151,225.8 1152.3,220.7 1153.6,215.4 1154.8,210 1156.1,204.5 1157.4,199.1 1158.7,193.9 1160,189 1161.3,184.6 1162.5,180.7 1163.8,177.5 1165.1,175.2 1166.4,173.6 1167.7,173.1 1169,173.5 1170.3,174.9 1171.5,177.3 1172.8,180.6 1174.1,184.9 1175.4,190 1176.7,195.8 1178,202.3 1179.2,209.3 1180.5,216.7 1181.8,224.4 1183.1,232.2 1184.4,240.1 1185.7,247.9 1186.9,255.4 1188.2,262.8 1189.5,269.7 1190.8,276.3 1192.1,282.4 1193.4,288.1 1194.6,293.2 1195.9,297.9 1197.2,302 1198.5,305.7 1199.8,309 1201.1,311.8 1202.4,314.3 1203.6,316.4 1204.9,318.2 1206.2,319.7 1207.5,321 1208.8,322.1 1210.1,323 1211.3,323.7" stroke="#000" stroke-width="2" stroke-dasharray="6,2"/>
<polyline points="1005.9,259.6 1007.2,259.4 1008.5,259.3 1009.8,259.1 1011,259 1012.3,258.8 1013.6,258.7 1014.9,258.6 1016.2,258.4 1017.5,258.2 1018.7,258 1020,257.8 1021.3,257.6 1022.6,257.3 1023.9,257 1025.2,256.7 1026.4,256.4 1027.7,256 1029,255.5 1030.3,255.1 1031.6,254.5 1032.9,254 1034.1,253.4 1035.4,252.7 1036.7,252 1038,251.2 1039.3,250.3 1040.6,249.3 1041.9,248.2 1043.1,246.9 1044.4,245.4 1045.7,243.9 1047,242.2 1048.3,240.6 1049.6,239 1050.8,237.6 1052.1,236.4 1053.4,235.4 1054.7,234.6 1056,233.9 1057.3,233.2 1058.5,232.4 1059.8,231.5 1061.1,230.6 1062.4,229.5 1063.7,228.4 1065,227.2 1066.2,225.9 1067.5,224.7 1068.8,223.5 1070.1,222.4 1071.4,221.2 1072.7,220.1 1074,219.1 1075.2,218.1 1076.5,217.1 1077.8,216.3 1079.1,215.5 1080.4,214.7 1081.7,214.1 1082.9,213.5 1084.2,213 1085.5,212.6 1086.8,212.3 1088.1,212.1 1089.4,211.9 1090.6,211.9 1091.9,212 1093.2,212.1 1094.5,212.4 1095.8,212.7 1097.1,213.2 1098.3,213.8 1099.6,214.4 1100.9,215.2 1102.2,216.1 1103.5,217 1104.8,218.1 1106.1,219.2 1107.3,220.5 1108.6,221.8 1109.9,223.2 1111.2,224.7 1112.5,226.2 1113.8,227.9 1115,229.6 1116.3,231.3 1117.6,233.2 1118.9,235 1120.2,237 1121.5,239 1122.7,240.2 1124,242 1125.3,243.8 1126.6,245.5 1127.9,247.1 1129.2,248.6 1130.4,250 1131.7,251.2 1133,252.2 1134.3,253 1135.6,253.5 1136.9,253.6 1138.2,253.4 1139.4,252.8 1140.7,251.8 1142,250.3 1143.3,248.3 1144.6,245.9 1145.9,242.9 1147.1,239.5 1148.4,235.6 1149.7,231.2 1151,226.5 1152.3,221.4 1153.6,216.1 1154.8,210.7 1156.1,205.2 1157.4,199.8 1158.7,194.6 1160,189.7 1161.3,185.2 1162.5,181.4 1163.8,178.2 1165.1,175.8 1166.4,174.3 1167.7,173.7 1169,174.2 1170.3,175.6 1171.5,177.9 1172.8,181.3 1174.1,185.6 1175.4,190.7 1176.7,196.5 1178,203 1179.2,210 1180.5,217.4 1181.8,225.1 1183.1,232.9 1184.4,240.8 1185.7,248.5 1186.9,256.1 1188.2,263.4 1189.5,270.4 1190.8,277 1192.1,283.1 1193.4,288.7 1194.6,293.9 1195.9,298.5 1197.2,302.7 1198.5,306.4 1199.8,309.7 1201.1,312.5 1202.4,315 1203.6,317.1 1204.9,318.9 1206.2,320.4 1207.5,321.7 1208.8,322.8 1210.1,323.7 1211.3,324.4" stroke="#22e0f0" stroke-width="1.7"/>
</g>
<rect x="1005.9" y="159.4" width="209.2" height="168.6" fill="none" stroke="#000" stroke-width="1.8"/>
<rect x="1016.5" y="163.6" width="41.5" height="27" fill="#fff" stroke="#000" stroke-width="1.8"/>
<text x="1022.5" y="184.3" font-size="23" font-weight="bold" fill="#000" text-anchor="start" font-family="'Liberation Sans', Arial, sans-serif">9V</text>
<text x="1057" y="209.2" font-size="22" font-weight="bold" fill="#1a1ae6" text-anchor="start" font-family="'Liberation Sans', Arial, sans-serif">870 nm</text>
<text x="1128" y="177.6" font-family="'Liberation Sans', Arial, sans-serif" font-weight="bold" font-size="22.5" fill="#1e8c1e" textLength="94" lengthAdjust="spacingAndGlyphs">1100 nm</text>
<line x1="782.2" y1="379.9" x2="782.2" y2="385.4" stroke="#000" stroke-width="2.6"/>
<line x1="782.2" y1="11" x2="782.2" y2="17.5" stroke="#000" stroke-width="2.6"/>
<line x1="817.3" y1="379.9" x2="817.3" y2="391.9" stroke="#000" stroke-width="2.6"/>
<line x1="817.3" y1="11" x2="817.3" y2="23.5" stroke="#000" stroke-width="2.6"/>
<line x1="852.4" y1="379.9" x2="852.4" y2="385.4" stroke="#000" stroke-width="2.6"/>
<line x1="852.4" y1="11" x2="852.4" y2="17.5" stroke="#000" stroke-width="2.6"/>
<line x1="887.5" y1="379.9" x2="887.5" y2="391.9" stroke="#000" stroke-width="2.6"/>
<line x1="887.5" y1="11" x2="887.5" y2="23.5" stroke="#000" stroke-width="2.6"/>
<line x1="922.6" y1="379.9" x2="922.6" y2="385.4" stroke="#000" stroke-width="2.6"/>
<line x1="922.6" y1="11" x2="922.6" y2="17.5" stroke="#000" stroke-width="2.6"/>
<line x1="957.7" y1="379.9" x2="957.7" y2="391.9" stroke="#000" stroke-width="2.6"/>
<line x1="957.7" y1="11" x2="957.7" y2="23.5" stroke="#000" stroke-width="2.6"/>
<line x1="992.8" y1="379.9" x2="992.8" y2="385.4" stroke="#000" stroke-width="2.6"/>
<line x1="992.8" y1="11" x2="992.8" y2="17.5" stroke="#000" stroke-width="2.6"/>
<line x1="1027.9" y1="379.9" x2="1027.9" y2="391.9" stroke="#000" stroke-width="2.6"/>
<line x1="1027.9" y1="11" x2="1027.9" y2="23.5" stroke="#000" stroke-width="2.6"/>
<line x1="1063" y1="379.9" x2="1063" y2="385.4" stroke="#000" stroke-width="2.6"/>
<line x1="1063" y1="11" x2="1063" y2="17.5" stroke="#000" stroke-width="2.6"/>
<line x1="1098.1" y1="379.9" x2="1098.1" y2="391.9" stroke="#000" stroke-width="2.6"/>
<line x1="1098.1" y1="11" x2="1098.1" y2="23.5" stroke="#000" stroke-width="2.6"/>
<line x1="1133.2" y1="379.9" x2="1133.2" y2="385.4" stroke="#000" stroke-width="2.6"/>
<line x1="1133.2" y1="11" x2="1133.2" y2="17.5" stroke="#000" stroke-width="2.6"/>
<line x1="1168.3" y1="379.9" x2="1168.3" y2="391.9" stroke="#000" stroke-width="2.6"/>
<line x1="1168.3" y1="11" x2="1168.3" y2="23.5" stroke="#000" stroke-width="2.6"/>
<line x1="1203.4" y1="379.9" x2="1203.4" y2="385.4" stroke="#000" stroke-width="2.6"/>
<line x1="1203.4" y1="11" x2="1203.4" y2="17.5" stroke="#000" stroke-width="2.6"/>
<line x1="1238.5" y1="379.9" x2="1238.5" y2="391.9" stroke="#000" stroke-width="2.6"/>
<line x1="1238.5" y1="11" x2="1238.5" y2="23.5" stroke="#000" stroke-width="2.6"/>
<line x1="782.3" y1="379.9" x2="768.3" y2="379.9" stroke="#000" stroke-width="2.6"/>
<line x1="1238.3" y1="379.9" x2="1224.3" y2="379.9" stroke="#000" stroke-width="2.6"/>
<line x1="782.3" y1="346.2" x2="775.3" y2="346.2" stroke="#000" stroke-width="2.6"/>
<line x1="1238.3" y1="346.2" x2="1231.3" y2="346.2" stroke="#000" stroke-width="2.6"/>
<line x1="782.3" y1="326.4" x2="775.3" y2="326.4" stroke="#000" stroke-width="2.6"/>
<line x1="1238.3" y1="326.4" x2="1231.3" y2="326.4" stroke="#000" stroke-width="2.6"/>
<line x1="782.3" y1="312.4" x2="775.3" y2="312.4" stroke="#000" stroke-width="2.6"/>
<line x1="1238.3" y1="312.4" x2="1231.3" y2="312.4" stroke="#000" stroke-width="2.6"/>
<line x1="782.3" y1="301.5" x2="775.3" y2="301.5" stroke="#000" stroke-width="2.6"/>
<line x1="1238.3" y1="301.5" x2="1231.3" y2="301.5" stroke="#000" stroke-width="2.6"/>
<line x1="782.3" y1="292.7" x2="775.3" y2="292.7" stroke="#000" stroke-width="2.6"/>
<line x1="1238.3" y1="292.7" x2="1231.3" y2="292.7" stroke="#000" stroke-width="2.6"/>
<line x1="782.3" y1="285.2" x2="775.3" y2="285.2" stroke="#000" stroke-width="2.6"/>
<line x1="1238.3" y1="285.2" x2="1231.3" y2="285.2" stroke="#000" stroke-width="2.6"/>
<line x1="782.3" y1="278.7" x2="775.3" y2="278.7" stroke="#000" stroke-width="2.6"/>
<line x1="1238.3" y1="278.7" x2="1231.3" y2="278.7" stroke="#000" stroke-width="2.6"/>
<line x1="782.3" y1="272.9" x2="775.3" y2="272.9" stroke="#000" stroke-width="2.6"/>
<line x1="1238.3" y1="272.9" x2="1231.3" y2="272.9" stroke="#000" stroke-width="2.6"/>
<line x1="782.3" y1="267.8" x2="768.3" y2="267.8" stroke="#000" stroke-width="2.6"/>
<line x1="1238.3" y1="267.8" x2="1224.3" y2="267.8" stroke="#000" stroke-width="2.6"/>
<line x1="782.3" y1="234.1" x2="775.3" y2="234.1" stroke="#000" stroke-width="2.6"/>
<line x1="1238.3" y1="234.1" x2="1231.3" y2="234.1" stroke="#000" stroke-width="2.6"/>
<line x1="782.3" y1="214.3" x2="775.3" y2="214.3" stroke="#000" stroke-width="2.6"/>
<line x1="1238.3" y1="214.3" x2="1231.3" y2="214.3" stroke="#000" stroke-width="2.6"/>
<line x1="782.3" y1="200.3" x2="775.3" y2="200.3" stroke="#000" stroke-width="2.6"/>
<line x1="1238.3" y1="200.3" x2="1231.3" y2="200.3" stroke="#000" stroke-width="2.6"/>
<line x1="782.3" y1="189.4" x2="775.3" y2="189.4" stroke="#000" stroke-width="2.6"/>
<line x1="1238.3" y1="189.4" x2="1231.3" y2="189.4" stroke="#000" stroke-width="2.6"/>
<line x1="782.3" y1="180.6" x2="775.3" y2="180.6" stroke="#000" stroke-width="2.6"/>
<line x1="1238.3" y1="180.6" x2="1231.3" y2="180.6" stroke="#000" stroke-width="2.6"/>
<line x1="782.3" y1="173.1" x2="775.3" y2="173.1" stroke="#000" stroke-width="2.6"/>
<line x1="1238.3" y1="173.1" x2="1231.3" y2="173.1" stroke="#000" stroke-width="2.6"/>
<line x1="782.3" y1="166.6" x2="775.3" y2="166.6" stroke="#000" stroke-width="2.6"/>
<line x1="1238.3" y1="166.6" x2="1231.3" y2="166.6" stroke="#000" stroke-width="2.6"/>
<line x1="782.3" y1="160.8" x2="775.3" y2="160.8" stroke="#000" stroke-width="2.6"/>
<line x1="1238.3" y1="160.8" x2="1231.3" y2="160.8" stroke="#000" stroke-width="2.6"/>
<line x1="782.3" y1="155.7" x2="768.3" y2="155.7" stroke="#000" stroke-width="2.6"/>
<line x1="1238.3" y1="155.7" x2="1224.3" y2="155.7" stroke="#000" stroke-width="2.6"/>
<line x1="782.3" y1="122" x2="775.3" y2="122" stroke="#000" stroke-width="2.6"/>
<line x1="1238.3" y1="122" x2="1231.3" y2="122" stroke="#000" stroke-width="2.6"/>
<line x1="782.3" y1="102.2" x2="775.3" y2="102.2" stroke="#000" stroke-width="2.6"/>
<line x1="1238.3" y1="102.2" x2="1231.3" y2="102.2" stroke="#000" stroke-width="2.6"/>
<line x1="782.3" y1="88.2" x2="775.3" y2="88.2" stroke="#000" stroke-width="2.6"/>
<line x1="1238.3" y1="88.2" x2="1231.3" y2="88.2" stroke="#000" stroke-width="2.6"/>
<line x1="782.3" y1="77.3" x2="775.3" y2="77.3" stroke="#000" stroke-width="2.6"/>
<line x1="1238.3" y1="77.3" x2="1231.3" y2="77.3" stroke="#000" stroke-width="2.6"/>
<line x1="782.3" y1="68.5" x2="775.3" y2="68.5" stroke="#000" stroke-width="2.6"/>
<line x1="1238.3" y1="68.5" x2="1231.3" y2="68.5" stroke="#000" stroke-width="2.6"/>
<line x1="782.3" y1="61" x2="775.3" y2="61" stroke="#000" stroke-width="2.6"/>
<line x1="1238.3" y1="61" x2="1231.3" y2="61" stroke="#000" stroke-width="2.6"/>
<line x1="782.3" y1="54.5" x2="775.3" y2="54.5" stroke="#000" stroke-width="2.6"/>
<line x1="1238.3" y1="54.5" x2="1231.3" y2="54.5" stroke="#000" stroke-width="2.6"/>
<line x1="782.3" y1="48.7" x2="775.3" y2="48.7" stroke="#000" stroke-width="2.6"/>
<line x1="1238.3" y1="48.7" x2="1231.3" y2="48.7" stroke="#000" stroke-width="2.6"/>
<line x1="782.3" y1="43.6" x2="768.3" y2="43.6" stroke="#000" stroke-width="2.6"/>
<line x1="1238.3" y1="43.6" x2="1224.3" y2="43.6" stroke="#000" stroke-width="2.6"/>
<rect x="782.3" y="11" width="456" height="368.9" fill="none" stroke="#000" stroke-width="3"/>
<text x="761.3" y="388.9" font-family="'Liberation Sans', Arial, sans-serif" font-weight="bold" font-size="31" text-anchor="end" textLength="19" lengthAdjust="spacingAndGlyphs">1</text>
<text x="761.3" y="276.8" font-family="'Liberation Sans', Arial, sans-serif" font-weight="bold" font-size="31" text-anchor="end" textLength="36.5" lengthAdjust="spacingAndGlyphs">10</text>
<text x="761.3" y="164.7" font-family="'Liberation Sans', Arial, sans-serif" font-weight="bold" font-size="31" text-anchor="end" textLength="55" lengthAdjust="spacingAndGlyphs">100</text>
<text x="761.3" y="52.6" font-family="'Liberation Sans', Arial, sans-serif" font-weight="bold" font-size="31" text-anchor="end" textLength="72.5" lengthAdjust="spacingAndGlyphs">1000</text>
<text x="817.6" y="424" font-family="'Liberation Sans', Arial, sans-serif" font-weight="bold" font-size="31" text-anchor="middle" textLength="18" lengthAdjust="spacingAndGlyphs">8</text>
<text x="887.8" y="424" font-family="'Liberation Sans', Arial, sans-serif" font-weight="bold" font-size="31" text-anchor="middle" textLength="36.5" lengthAdjust="spacingAndGlyphs">10</text>
<text x="958" y="424" font-family="'Liberation Sans', Arial, sans-serif" font-weight="bold" font-size="31" text-anchor="middle" textLength="36.5" lengthAdjust="spacingAndGlyphs">12</text>
<text x="1028.2" y="424" font-family="'Liberation Sans', Arial, sans-serif" font-weight="bold" font-size="31" text-anchor="middle" textLength="36.5" lengthAdjust="spacingAndGlyphs">14</text>
<text x="1098.4" y="424" font-family="'Liberation Sans', Arial, sans-serif" font-weight="bold" font-size="31" text-anchor="middle" textLength="36.5" lengthAdjust="spacingAndGlyphs">16</text>
<text x="1168.6" y="424" font-family="'Liberation Sans', Arial, sans-serif" font-weight="bold" font-size="31" text-anchor="middle" textLength="36.5" lengthAdjust="spacingAndGlyphs">18</text>
<text x="1238.8" y="424" font-family="'Liberation Sans', Arial, sans-serif" font-weight="bold" font-size="31" text-anchor="middle" textLength="36.5" lengthAdjust="spacingAndGlyphs">20</text>
<text x="1019.5" y="458.5" text-anchor="middle" font-family="'Liberation Sans', Arial, sans-serif" font-weight="bold" font-size="38"><tspan font-style="italic">U</tspan> (V)</text>
<text transform="translate(703.2,322.5) rotate(-90)" font-family="'Liberation Sans', Arial, sans-serif" font-weight="bold" font-style="italic" font-size="39">I</text>
<text transform="translate(715.2,312.5) rotate(-90)" font-family="'Liberation Sans', Arial, sans-serif" font-weight="bold" font-style="italic" font-size="26">ph</text>
<text transform="translate(703.2,271.5) rotate(-90)" font-family="'Liberation Sans', Arial, sans-serif" font-weight="bold" font-size="39" textLength="92" lengthAdjust="spacingAndGlyphs">(a.u.)</text>
<text x="803" y="73" font-family="'Liberation Sans', Arial, sans-serif" font-weight="bold" font-size="43" textLength="56" lengthAdjust="spacingAndGlyphs">(b)</text>
<rect x="785.5" y="597" width="469" height="65" fill="#fbe5d6"/>
<rect x="785.5" y="662" width="469" height="52" fill="#ffffff"/>
<rect x="785.5" y="714" width="469" height="107" fill="#b7dde8"/>
<rect x="785.5" y="597" width="469" height="224" fill="none" stroke="#92d050" stroke-width="3.5"/>
<line x1="785.5" y1="662" x2="1254.5" y2="662" stroke="#92d050" stroke-width="3.8"/>
<line x1="785.5" y1="713.7" x2="1254.5" y2="713.7" stroke="#92d050" stroke-width="7.5"/>
<rect x="838.6" y="553.6" width="108.5" height="42.3" fill="#ffff00" stroke="#2f5272" stroke-width="3.4"/>
<rect x="1097.1" y="554.4" width="106.7" height="41.5" fill="#ffff00" stroke="#2f5272" stroke-width="3.4"/>
<text x="869.5" y="590.5" font-family="'Liberation Sans', Arial, sans-serif" font-size="37.5" textLength="32" lengthAdjust="spacingAndGlyphs">Al</text>
<text x="1138" y="588.4" font-family="'Liberation Sans', Arial, sans-serif" font-size="37.5" textLength="32" lengthAdjust="spacingAndGlyphs">Al</text>
<g stroke="#c80a0a" fill="none" stroke-linecap="butt">
<line x1="955.3" y1="598" x2="955.3" y2="751" stroke-width="4"/>
<line x1="973.4" y1="598" x2="973.4" y2="751" stroke-width="3.5"/>
<line x1="994.5" y1="598" x2="995.5" y2="751" stroke-width="3.8"/>
<line x1="953.3" y1="751.3" x2="1119.5" y2="751.3" stroke-width="5.8"/>
<line x1="1135" y1="597" x2="1119.5" y2="744" stroke-width="5.5"/>
</g>
<path d="M1034.8,750.5 L1046,741.8 L1043.5,750.5 L1046,759.2 Z" fill="#c80a0a"/>
<path d="M1081,750.5 L1069.8,741.8 L1072.3,750.5 L1069.8,759.2 Z" fill="#c80a0a"/>
<path d="M939,592 L947.1,641.8 L1098.3,641.8 L1102.3,597.5" stroke="#4f81bd" stroke-width="3.4" fill="none" stroke-linejoin="miter"/>
<path d="M1041,641.8 L1055,634.5 L1052,641.8 L1055,649.1 Z" fill="#4f81bd"/>
<path d="M977.6,522.6 L978.7,523.6 L979.8,524.6 L980.9,525.6 L981.8,526.6 L982.6,527.6 L983.2,528.6 L983.7,529.6 L983.9,530.6 L984,531.6 L983.8,532.6 L983.5,533.6 L982.9,534.6 L982.2,535.6 L981.3,536.6 L980.3,537.6 L979.2,538.6 L978,539.6 L976.8,540.6 L975.6,541.6 L974.4,542.6 L973.3,543.6 L972.2,544.6 L971.4,545.6 L970.6,546.6 L970.1,547.6 L969.7,548.6 L969.6,549.6 L969.6,550.6 L969.9,551.6 L970.4,552.6 L971,553.6 L971.8,554.6 L972.7,555.6 L973.7,556.6 L974.8,557.6 L976,558.6 L977.1,559.6 L978.2,560.6 L979.2,561.6 L980.2,562.6 L981,563.6 L981.6,564.6 L982.1,565.6 L982.3,566.6 L982.4,567.6 L982.2,568.6 L981.9,569.6 L981.3,570.6 L980.6,571.6 L979.7,572.6 L978.7,573.6 L977.6,574.6 L976.4,575.6 L975.2,576.6 L973.9,577.6 L972.8,578.6 L971.6,579.6 L970.6,580.6 L969.7,581.6 L969,582.6 L968.5,583.6 L968.1,584.6" stroke="#c8141e" stroke-width="2.5" fill="none" stroke-linecap="round"/>
<path d="M973,595.6 L960.4,588.4 L969.1,587.6 L977,585.1 Z" fill="#ff0000"/>
<path d="M1009,522.6 L1010.1,523.6 L1011.2,524.6 L1012.3,525.6 L1013.2,526.6 L1014,527.6 L1014.6,528.6 L1015.1,529.6 L1015.3,530.6 L1015.4,531.6 L1015.2,532.6 L1014.9,533.6 L1014.3,534.6 L1013.6,535.6 L1012.7,536.6 L1011.7,537.6 L1010.6,538.6 L1009.4,539.6 L1008.2,540.6 L1007,541.6 L1005.8,542.6 L1004.7,543.6 L1003.6,544.6 L1002.8,545.6 L1002,546.6 L1001.5,547.6 L1001.1,548.6 L1001,549.6 L1001,550.6 L1001.3,551.6 L1001.8,552.6 L1002.4,553.6 L1003.2,554.6 L1004.1,555.6 L1005.1,556.6 L1006.2,557.6 L1007.4,558.6 L1008.5,559.6 L1009.6,560.6 L1010.6,561.6 L1011.6,562.6 L1012.4,563.6 L1013,564.6 L1013.5,565.6 L1013.7,566.6 L1013.8,567.6 L1013.6,568.6 L1013.3,569.6 L1012.7,570.6 L1012,571.6 L1011.1,572.6 L1010.1,573.6 L1009,574.6 L1007.8,575.6 L1006.6,576.6 L1005.3,577.6 L1004.2,578.6 L1003,579.6 L1002,580.6 L1001.1,581.6 L1000.4,582.6 L999.9,583.6 L999.5,584.6" stroke="#c8141e" stroke-width="2.5" fill="none" stroke-linecap="round"/>
<path d="M1004.4,595.6 L991.8,588.4 L1000.5,587.6 L1008.4,585.1 Z" fill="#ff0000"/>
<path d="M1039.5,522.6 L1040.6,523.6 L1041.7,524.6 L1042.8,525.6 L1043.7,526.6 L1044.5,527.6 L1045.1,528.6 L1045.6,529.6 L1045.8,530.6 L1045.9,531.6 L1045.7,532.6 L1045.4,533.6 L1044.8,534.6 L1044.1,535.6 L1043.2,536.6 L1042.2,537.6 L1041.1,538.6 L1039.9,539.6 L1038.7,540.6 L1037.5,541.6 L1036.3,542.6 L1035.2,543.6 L1034.1,544.6 L1033.3,545.6 L1032.5,546.6 L1032,547.6 L1031.6,548.6 L1031.5,549.6 L1031.5,550.6 L1031.8,551.6 L1032.3,552.6 L1032.9,553.6 L1033.7,554.6 L1034.6,555.6 L1035.6,556.6 L1036.7,557.6 L1037.9,558.6 L1039,559.6 L1040.1,560.6 L1041.1,561.6 L1042.1,562.6 L1042.9,563.6 L1043.5,564.6 L1044,565.6 L1044.2,566.6 L1044.3,567.6 L1044.1,568.6 L1043.8,569.6 L1043.2,570.6 L1042.5,571.6 L1041.6,572.6 L1040.6,573.6 L1039.5,574.6 L1038.3,575.6 L1037.1,576.6 L1035.8,577.6 L1034.7,578.6 L1033.5,579.6 L1032.5,580.6 L1031.6,581.6 L1030.9,582.6 L1030.4,583.6 L1030,584.6" stroke="#c8141e" stroke-width="2.5" fill="none" stroke-linecap="round"/>
<path d="M1034.9,595.6 L1022.3,588.4 L1031,587.6 L1038.9,585.1 Z" fill="#ff0000"/>
<path d="M1071,522.6 L1072.1,523.6 L1073.2,524.6 L1074.3,525.6 L1075.2,526.6 L1076,527.6 L1076.6,528.6 L1077.1,529.6 L1077.3,530.6 L1077.4,531.6 L1077.2,532.6 L1076.9,533.6 L1076.3,534.6 L1075.6,535.6 L1074.7,536.6 L1073.7,537.6 L1072.6,538.6 L1071.4,539.6 L1070.2,540.6 L1069,541.6 L1067.8,542.6 L1066.7,543.6 L1065.6,544.6 L1064.8,545.6 L1064,546.6 L1063.5,547.6 L1063.1,548.6 L1063,549.6 L1063,550.6 L1063.3,551.6 L1063.8,552.6 L1064.4,553.6 L1065.2,554.6 L1066.1,555.6 L1067.1,556.6 L1068.2,557.6 L1069.4,558.6 L1070.5,559.6 L1071.6,560.6 L1072.6,561.6 L1073.6,562.6 L1074.4,563.6 L1075,564.6 L1075.5,565.6 L1075.7,566.6 L1075.8,567.6 L1075.6,568.6 L1075.3,569.6 L1074.7,570.6 L1074,571.6 L1073.1,572.6 L1072.1,573.6 L1071,574.6 L1069.8,575.6 L1068.6,576.6 L1067.3,577.6 L1066.2,578.6 L1065,579.6 L1064,580.6 L1063.1,581.6 L1062.4,582.6 L1061.9,583.6 L1061.5,584.6" stroke="#c8141e" stroke-width="2.5" fill="none" stroke-linecap="round"/>
<path d="M1066.4,595.6 L1053.8,588.4 L1062.5,587.6 L1070.4,585.1 Z" fill="#ff0000"/>
<text x="749.5" y="568.6" font-family="'Liberation Sans', Arial, sans-serif" font-weight="bold" font-size="45" textLength="50" lengthAdjust="spacingAndGlyphs">(c)</text>
<rect x="841.6" y="534.3" width="12.9" height="5.2" fill="#000"/>
<text x="873" y="550" font-family="'Liberation Sans', Arial, sans-serif" font-weight="bold" font-size="36.5" textLength="36.5" lengthAdjust="spacingAndGlyphs">HI</text>
<path d="M1108.5,517 L1108.5,546.8 M1094,531.7 L1123.1,531.7" stroke="#000" stroke-width="6"/>
<text x="1141" y="550" font-family="'Liberation Sans', Arial, sans-serif" font-weight="bold" font-size="36.5" textLength="45" lengthAdjust="spacingAndGlyphs">LO</text>
<text x="789.5" y="641.3" font-family="'Liberation Sans', Arial, sans-serif" font-weight="bold" font-size="43" textLength="136" lengthAdjust="spacingAndGlyphs">Ge-TiO</text>
<text x="924.2" y="650.1" font-family="'Liberation Sans', Arial, sans-serif" font-weight="bold" font-size="24" textLength="15" lengthAdjust="spacingAndGlyphs">2</text>
<text x="814" y="700.8" font-family="'Liberation Sans', Arial, sans-serif" font-weight="bold" font-size="42.5" textLength="66.5" lengthAdjust="spacingAndGlyphs">SiO</text>
<text x="880" y="710.3" font-family="'Liberation Sans', Arial, sans-serif" font-weight="bold" font-size="23" textLength="15" lengthAdjust="spacingAndGlyphs">2</text>
<text x="800" y="796.2" font-family="'Liberation Sans', Arial, sans-serif" font-weight="bold" font-size="39" textLength="185.5" lengthAdjust="spacingAndGlyphs">n-Si subs.</text>
<text x="1076.4" y="636.3" font-family="'Liberation Sans', Arial, sans-serif" font-weight="bold" font-size="36">I</text>
<rect x="1090.5" y="717.4" width="5.3" height="25.8" rx="1.5" fill="#000"/>
<rect x="1101.5" y="717.4" width="5.3" height="25.8" rx="1.5" fill="#000"/>
<defs>
<clipPath id="cd"><rect x="1396.7" y="12.2" width="495.7" height="247.3"/></clipPath>
<clipPath id="ce"><rect x="1396.7" y="259.5" width="495.7" height="247.7"/></clipPath>
<clipPath id="cf"><rect x="1396.7" y="507.2" width="495.7" height="247.2"/></clipPath>
</defs>
<g clip-path="url(#cd)">
<path d="M1397.8,124.5 C1402.1,123.3 1406.4,122 1410.8,121 C1415.3,120 1420.4,119.2 1424.7,118.4 C1428.4,117.7 1431.4,117.5 1435.1,116.7 C1439.4,115.8 1444.8,114.9 1449,113.2 C1452.8,111.6 1455.8,109.3 1459.4,107.1 C1463.3,104.7 1467.5,102 1471.5,99.3 C1475.6,96.5 1479.9,93.8 1483.7,90.7 C1487.4,87.7 1490.5,83.8 1494.1,81.1 C1497.4,78.6 1501,76.9 1504.5,75 C1507.9,73.1 1511.4,71.8 1514.9,69.8 C1518.8,67.6 1523,64.7 1527,62 C1531.1,59.2 1535.1,56 1539.2,53.4 C1543.2,50.8 1547.2,48.3 1551.3,46.4 C1555.3,44.6 1559.5,43.7 1563.5,42.1 C1567.6,40.5 1571.5,38.4 1575.6,36.9 C1579.6,35.5 1584.1,34.3 1587.7,33.4 C1590.6,32.7 1593,31.6 1595.6,31.7 C1598.2,31.8 1600.6,33.5 1603.4,34.3 C1606.6,35.2 1610.4,35.5 1613.8,36.9 C1617.4,38.4 1620.7,40.7 1624.2,43 C1628.1,45.5 1632.5,48.1 1636.3,51.6 C1640.6,55.6 1644.9,61.9 1648.6,66 C1651.5,69.2 1654.1,71.2 1656.5,74.2 C1659,77.4 1661,81.1 1663.4,84.6 C1665.9,88.3 1668.6,92.2 1671.2,95.9 C1673.8,99.5 1676.6,102.6 1679,106.3 C1681.5,110.1 1683.5,114.6 1686,118.4 C1688.4,122.1 1691.1,125.5 1693.8,128.8 C1696.3,131.9 1698.9,134.8 1701.6,137.5 C1704.1,140 1706.7,142.5 1709.4,144.4 C1711.9,146.2 1714.6,148.7 1717.2,148.8 C1719.8,148.9 1722.7,147.1 1725,145.3 C1727.7,143.2 1729.6,139.6 1731.9,136.6 C1734.4,133.3 1737.1,129.8 1739.7,126.2 C1742.3,122.5 1744.9,118.6 1747.5,114.9 C1750.1,111.3 1752.6,107.6 1755.3,104.5 C1757.8,101.6 1760.6,99 1763.2,96.7 C1765.5,94.7 1767.6,92.8 1770.1,91.5 C1772.5,90.2 1775.4,88.7 1777.9,88.9 C1780.6,89.2 1783.3,91.1 1785.7,93.3 C1788.7,96.1 1791,101 1793.5,105.4 C1796.3,110.4 1799,115.8 1801.3,121.9 C1804,129.1 1805.8,137.1 1808,146 C1810.6,156.7 1812.8,170.3 1815.5,181.6 C1818,191.9 1821,201.8 1823.6,211.1 C1825.9,219.6 1827.4,228.6 1830.3,235.3 C1832.6,240.6 1835.4,244.9 1838.3,248.7 C1840.8,251.9 1843.4,254.9 1846.4,256.8 C1849.1,258.5 1851.1,259.2 1855,260 C1862.8,261.5 1879,260.7 1891,261" stroke="#0000ff" stroke-width="1.4" fill="none"/>
<ellipse cx="1396.6" cy="124.5" rx="4.6" ry="5.5" fill="#0000ff"/><circle cx="1396.6" cy="124.2" r="1.2" fill="#c8d0ff"/>
<ellipse cx="1404.2" cy="122.7" rx="4.6" ry="5.5" fill="#0000ff"/><circle cx="1404.2" cy="122.4" r="1.2" fill="#c8d0ff"/>
<ellipse cx="1411.9" cy="120.8" rx="4.6" ry="5.5" fill="#0000ff"/><circle cx="1411.9" cy="120.5" r="1.2" fill="#c8d0ff"/>
<ellipse cx="1419.5" cy="119.3" rx="4.6" ry="5.5" fill="#0000ff"/><circle cx="1419.5" cy="119" r="1.2" fill="#c8d0ff"/>
<ellipse cx="1427.1" cy="118" rx="4.6" ry="5.5" fill="#0000ff"/><circle cx="1427.1" cy="117.7" r="1.2" fill="#c8d0ff"/>
<ellipse cx="1434.8" cy="116.8" rx="4.6" ry="5.5" fill="#0000ff"/><circle cx="1434.8" cy="116.5" r="1.2" fill="#c8d0ff"/>
<ellipse cx="1442.4" cy="115.2" rx="4.6" ry="5.5" fill="#0000ff"/><circle cx="1442.4" cy="114.9" r="1.2" fill="#c8d0ff"/>
<ellipse cx="1450" cy="112.7" rx="4.6" ry="5.5" fill="#0000ff"/><circle cx="1450" cy="112.4" r="1.2" fill="#c8d0ff"/>
<ellipse cx="1457.7" cy="108.2" rx="4.6" ry="5.5" fill="#0000ff"/><circle cx="1457.7" cy="107.9" r="1.2" fill="#c8d0ff"/>
<ellipse cx="1465.3" cy="103.4" rx="4.6" ry="5.5" fill="#0000ff"/><circle cx="1465.3" cy="103.1" r="1.2" fill="#c8d0ff"/>
<ellipse cx="1472.9" cy="98.3" rx="4.6" ry="5.5" fill="#0000ff"/><circle cx="1472.9" cy="98" r="1.2" fill="#c8d0ff"/>
<ellipse cx="1480.6" cy="93.1" rx="4.6" ry="5.5" fill="#0000ff"/><circle cx="1480.6" cy="92.8" r="1.2" fill="#c8d0ff"/>
<ellipse cx="1488.2" cy="86.5" rx="4.6" ry="5.5" fill="#0000ff"/><circle cx="1488.2" cy="86.2" r="1.2" fill="#c8d0ff"/>
<ellipse cx="1495.9" cy="79.9" rx="4.6" ry="5.5" fill="#0000ff"/><circle cx="1495.9" cy="79.6" r="1.2" fill="#c8d0ff"/>
<ellipse cx="1503.5" cy="75.5" rx="4.6" ry="5.5" fill="#0000ff"/><circle cx="1503.5" cy="75.2" r="1.2" fill="#c8d0ff"/>
<ellipse cx="1511.1" cy="71.8" rx="4.6" ry="5.5" fill="#0000ff"/><circle cx="1511.1" cy="71.5" r="1.2" fill="#c8d0ff"/>
<ellipse cx="1518.8" cy="67.5" rx="4.6" ry="5.5" fill="#0000ff"/><circle cx="1518.8" cy="67.2" r="1.2" fill="#c8d0ff"/>
<ellipse cx="1526.4" cy="62.4" rx="4.6" ry="5.5" fill="#0000ff"/><circle cx="1526.4" cy="62.1" r="1.2" fill="#c8d0ff"/>
<ellipse cx="1534" cy="57" rx="4.6" ry="5.5" fill="#0000ff"/><circle cx="1534" cy="56.7" r="1.2" fill="#c8d0ff"/>
<ellipse cx="1541.7" cy="51.8" rx="4.6" ry="5.5" fill="#0000ff"/><circle cx="1541.7" cy="51.5" r="1.2" fill="#c8d0ff"/>
<ellipse cx="1549.3" cy="47.4" rx="4.6" ry="5.5" fill="#0000ff"/><circle cx="1549.3" cy="47.1" r="1.2" fill="#c8d0ff"/>
<ellipse cx="1556.9" cy="44.3" rx="4.6" ry="5.5" fill="#0000ff"/><circle cx="1556.9" cy="44" r="1.2" fill="#c8d0ff"/>
<ellipse cx="1564.6" cy="41.7" rx="4.6" ry="5.5" fill="#0000ff"/><circle cx="1564.6" cy="41.4" r="1.2" fill="#c8d0ff"/>
<ellipse cx="1572.2" cy="38.3" rx="4.6" ry="5.5" fill="#0000ff"/><circle cx="1572.2" cy="38" r="1.2" fill="#c8d0ff"/>
<ellipse cx="1579.8" cy="35.5" rx="4.6" ry="5.5" fill="#0000ff"/><circle cx="1579.8" cy="35.2" r="1.2" fill="#c8d0ff"/>
<ellipse cx="1587.5" cy="33.5" rx="4.6" ry="5.5" fill="#0000ff"/><circle cx="1587.5" cy="33.2" r="1.2" fill="#c8d0ff"/>
<ellipse cx="1595.1" cy="31.7" rx="4.6" ry="5.5" fill="#0000ff"/><circle cx="1595.1" cy="31.4" r="1.2" fill="#c8d0ff"/>
<ellipse cx="1602.7" cy="34.1" rx="4.6" ry="5.5" fill="#0000ff"/><circle cx="1602.7" cy="33.8" r="1.2" fill="#c8d0ff"/>
<ellipse cx="1610.4" cy="35.8" rx="4.6" ry="5.5" fill="#0000ff"/><circle cx="1610.4" cy="35.5" r="1.2" fill="#c8d0ff"/>
<ellipse cx="1618" cy="39" rx="4.6" ry="5.5" fill="#0000ff"/><circle cx="1618" cy="38.7" r="1.2" fill="#c8d0ff"/>
<ellipse cx="1625.6" cy="43.9" rx="4.6" ry="5.5" fill="#0000ff"/><circle cx="1625.6" cy="43.6" r="1.2" fill="#c8d0ff"/>
<ellipse cx="1633.3" cy="49.1" rx="4.6" ry="5.5" fill="#0000ff"/><circle cx="1633.3" cy="48.8" r="1.2" fill="#c8d0ff"/>
<ellipse cx="1640.9" cy="56.6" rx="4.6" ry="5.5" fill="#0000ff"/><circle cx="1640.9" cy="56.3" r="1.2" fill="#c8d0ff"/>
<ellipse cx="1648.6" cy="65.9" rx="4.6" ry="5.5" fill="#0000ff"/><circle cx="1648.6" cy="65.6" r="1.2" fill="#c8d0ff"/>
<ellipse cx="1656.2" cy="73.8" rx="4.6" ry="5.5" fill="#0000ff"/><circle cx="1656.2" cy="73.5" r="1.2" fill="#c8d0ff"/>
<ellipse cx="1663.8" cy="85.2" rx="4.6" ry="5.5" fill="#0000ff"/><circle cx="1663.8" cy="84.9" r="1.2" fill="#c8d0ff"/>
<ellipse cx="1671.5" cy="96.3" rx="4.6" ry="5.5" fill="#0000ff"/><circle cx="1671.5" cy="96" r="1.2" fill="#c8d0ff"/>
<ellipse cx="1679.1" cy="106.4" rx="4.6" ry="5.5" fill="#0000ff"/><circle cx="1679.1" cy="106.1" r="1.2" fill="#c8d0ff"/>
<ellipse cx="1686.7" cy="119.5" rx="4.6" ry="5.5" fill="#0000ff"/><circle cx="1686.7" cy="119.2" r="1.2" fill="#c8d0ff"/>
<ellipse cx="1694.4" cy="129.5" rx="4.6" ry="5.5" fill="#0000ff"/><circle cx="1694.4" cy="129.2" r="1.2" fill="#c8d0ff"/>
<ellipse cx="1702" cy="137.9" rx="4.6" ry="5.5" fill="#0000ff"/><circle cx="1702" cy="137.6" r="1.2" fill="#c8d0ff"/>
<ellipse cx="1709.6" cy="144.6" rx="4.6" ry="5.5" fill="#0000ff"/><circle cx="1709.6" cy="144.3" r="1.2" fill="#c8d0ff"/>
<ellipse cx="1717.3" cy="148.8" rx="4.6" ry="5.5" fill="#0000ff"/><circle cx="1717.3" cy="148.5" r="1.2" fill="#c8d0ff"/>
<ellipse cx="1724.9" cy="145.4" rx="4.6" ry="5.5" fill="#0000ff"/><circle cx="1724.9" cy="145.1" r="1.2" fill="#c8d0ff"/>
<ellipse cx="1732.5" cy="135.8" rx="4.6" ry="5.5" fill="#0000ff"/><circle cx="1732.5" cy="135.5" r="1.2" fill="#c8d0ff"/>
<ellipse cx="1740.2" cy="125.5" rx="4.6" ry="5.5" fill="#0000ff"/><circle cx="1740.2" cy="125.2" r="1.2" fill="#c8d0ff"/>
<ellipse cx="1747.8" cy="114.5" rx="4.6" ry="5.5" fill="#0000ff"/><circle cx="1747.8" cy="114.2" r="1.2" fill="#c8d0ff"/>
<ellipse cx="1755.4" cy="104.3" rx="4.6" ry="5.5" fill="#0000ff"/><circle cx="1755.4" cy="104" r="1.2" fill="#c8d0ff"/>
<ellipse cx="1763.1" cy="96.8" rx="4.6" ry="5.5" fill="#0000ff"/><circle cx="1763.1" cy="96.5" r="1.2" fill="#c8d0ff"/>
<ellipse cx="1770.7" cy="91.2" rx="4.6" ry="5.5" fill="#0000ff"/><circle cx="1770.7" cy="90.9" r="1.2" fill="#c8d0ff"/>
<ellipse cx="1778.3" cy="89" rx="4.6" ry="5.5" fill="#0000ff"/><circle cx="1778.3" cy="88.7" r="1.2" fill="#c8d0ff"/>
<ellipse cx="1786" cy="93.6" rx="4.6" ry="5.5" fill="#0000ff"/><circle cx="1786" cy="93.3" r="1.2" fill="#c8d0ff"/>
<ellipse cx="1793.6" cy="105.6" rx="4.6" ry="5.5" fill="#0000ff"/><circle cx="1793.6" cy="105.3" r="1.2" fill="#c8d0ff"/>
<ellipse cx="1801.3" cy="121.8" rx="4.6" ry="5.5" fill="#0000ff"/><circle cx="1801.3" cy="121.5" r="1.2" fill="#c8d0ff"/>
<ellipse cx="1808.9" cy="149.8" rx="4.6" ry="5.5" fill="#0000ff"/><circle cx="1808.9" cy="149.5" r="1.2" fill="#c8d0ff"/>
<ellipse cx="1816.5" cy="185.7" rx="4.6" ry="5.5" fill="#0000ff"/><circle cx="1816.5" cy="185.4" r="1.2" fill="#c8d0ff"/>
<ellipse cx="1824.2" cy="213.2" rx="4.6" ry="5.5" fill="#0000ff"/><circle cx="1824.2" cy="212.9" r="1.2" fill="#c8d0ff"/>
<ellipse cx="1831.8" cy="238.5" rx="4.6" ry="5.5" fill="#0000ff"/><circle cx="1831.8" cy="238.2" r="1.2" fill="#c8d0ff"/>
<ellipse cx="1839.4" cy="250.1" rx="4.6" ry="5.5" fill="#0000ff"/><circle cx="1839.4" cy="249.8" r="1.2" fill="#c8d0ff"/>
<ellipse cx="1847.1" cy="257.2" rx="4.6" ry="5.5" fill="#0000ff"/><circle cx="1847.1" cy="256.9" r="1.2" fill="#c8d0ff"/>
<ellipse cx="1854.7" cy="259.9" rx="4.6" ry="5.5" fill="#0000ff"/><circle cx="1854.7" cy="259.6" r="1.2" fill="#c8d0ff"/>
<ellipse cx="1862.3" cy="260.7" rx="4.6" ry="5.5" fill="#0000ff"/><circle cx="1862.3" cy="260.4" r="1.2" fill="#c8d0ff"/>
<ellipse cx="1870" cy="260.9" rx="4.6" ry="5.5" fill="#0000ff"/><circle cx="1870" cy="260.6" r="1.2" fill="#c8d0ff"/>
<ellipse cx="1877.6" cy="260.9" rx="4.6" ry="5.5" fill="#0000ff"/><circle cx="1877.6" cy="260.6" r="1.2" fill="#c8d0ff"/>
<ellipse cx="1885.2" cy="260.9" rx="4.6" ry="5.5" fill="#0000ff"/><circle cx="1885.2" cy="260.6" r="1.2" fill="#c8d0ff"/>
</g>
<g clip-path="url(#cd)">
<path d="M1397.8,140.1 C1399.5,137.2 1400.7,133.4 1403,131.4 C1405.1,129.5 1408.1,128.9 1410.8,128 C1413.6,127.1 1416.7,126.6 1419.5,126.2 C1422.2,125.8 1424.7,125.7 1427.3,125.4 C1429.9,125.1 1432.6,125 1435.1,124.5 C1437.5,124.1 1439.6,123.3 1442,122.7 C1444.5,122.1 1447.2,121.7 1449.8,121 C1452.4,120.3 1455,119.5 1457.6,118.4 C1460.3,117.2 1462.9,115.7 1465.5,114.1 C1468.1,112.5 1470.8,110.7 1473.3,108.9 C1475.7,107.2 1477.8,105.4 1480.2,103.7 C1482.7,101.9 1485.5,100.5 1488,98.5 C1490.7,96.4 1493.2,93.6 1495.8,91.5 C1498.1,89.6 1500.3,87.9 1502.7,86.3 C1505.2,84.7 1508,83.4 1510.6,81.9 C1513.2,80.5 1515.8,79.2 1518.4,77.6 C1521,76 1523.7,74.3 1526.2,72.4 C1528.6,70.5 1530.7,68.4 1533.1,66.4 C1535.6,64.3 1538.3,62.4 1540.9,60.3 C1543.5,58.1 1546.1,55.7 1548.7,53.4 C1551.3,51.1 1553.9,48.7 1556.5,46.4 C1559.1,44.1 1561.7,41.7 1564.3,39.5 C1566.9,37.4 1569.5,35.3 1572.1,33.4 C1574.7,31.5 1577.4,29.8 1580,28.2 C1582.6,26.6 1585.1,25.1 1587.7,23.9 C1590.3,22.8 1592.9,21.9 1595.6,21.3 C1598.2,20.7 1600.8,20.4 1603.4,20.4 C1606,20.4 1608.7,20.6 1611.2,21.3 C1613.9,22 1616.5,23.5 1619,24.7 C1621.4,25.8 1623.6,26.8 1625.9,28.2 C1628.5,29.7 1631.1,31.7 1633.7,33.4 C1636.3,35.1 1639.1,36.4 1641.6,38.2 C1644.1,40 1646.2,42.2 1648.6,44.2 C1651.1,46.4 1654,48.3 1656.5,50.8 C1659.2,53.6 1661.7,57 1664.3,60.3 C1666.9,63.7 1669.6,67.2 1672.1,70.7 C1674.5,74.1 1676.7,77.3 1679,81.1 C1681.6,85.4 1684.2,90.5 1686.8,95 C1689.4,99.4 1692.1,103.7 1694.6,108 C1697,112.1 1699.1,116.2 1701.6,120.1 C1704.1,124 1706.6,128.1 1709.4,131.4 C1711.9,134.4 1714.4,137.1 1717.2,139.2 C1719.7,141.1 1722.3,143.2 1725,143.6 C1727.5,144 1730.3,143.1 1732.8,141.8 C1735.6,140.4 1738.3,137.7 1740.6,134.9 C1743.2,131.8 1745.2,127.6 1747.5,123.6 C1750.1,119.2 1752.7,114.2 1755.3,109.7 C1757.9,105.3 1760.6,101 1763.2,96.7 C1765.8,92.4 1768.2,87.6 1771,83.7 C1773.5,80.2 1776,76.9 1778.8,74.2 C1781.3,71.8 1783.8,68.9 1786.6,68.1 C1789.1,67.4 1792,67.8 1794.4,69 C1797.3,70.5 1800,73.9 1802.2,77.6 C1805.2,82.7 1806.9,90 1809.1,97.6 C1811.9,107.2 1814.4,118.8 1816.9,130.6 C1819.7,144 1822.4,159.6 1824.9,173.6 C1827.3,186.9 1829,201.1 1831.6,212.5 C1833.6,221.5 1835.2,230.4 1838.3,236.6 C1840.6,241.2 1843.5,244.6 1846.4,247.4 C1848.9,249.8 1851.6,251.5 1854.4,252.8 C1857,254.1 1859.6,254.9 1862.5,255.4 C1865.8,256 1869.2,255.9 1873.2,256 C1878.4,256.1 1885.1,256 1891,256" stroke="#ff0000" stroke-width="1.4" fill="none"/>
<ellipse cx="1396.6" cy="140.1" rx="3.7" ry="4.7" fill="#fff" stroke="#ff0000" stroke-width="1.9"/>
<ellipse cx="1404.2" cy="130.5" rx="3.7" ry="4.7" fill="#fff" stroke="#ff0000" stroke-width="1.9"/>
<ellipse cx="1411.9" cy="127.7" rx="3.7" ry="4.7" fill="#fff" stroke="#ff0000" stroke-width="1.9"/>
<ellipse cx="1419.5" cy="126.2" rx="3.7" ry="4.7" fill="#fff" stroke="#ff0000" stroke-width="1.9"/>
<ellipse cx="1427.1" cy="125.4" rx="3.7" ry="4.7" fill="#fff" stroke="#ff0000" stroke-width="1.9"/>
<ellipse cx="1434.8" cy="124.6" rx="3.7" ry="4.7" fill="#fff" stroke="#ff0000" stroke-width="1.9"/>
<ellipse cx="1442.4" cy="122.6" rx="3.7" ry="4.7" fill="#fff" stroke="#ff0000" stroke-width="1.9"/>
<ellipse cx="1450" cy="120.9" rx="3.7" ry="4.7" fill="#fff" stroke="#ff0000" stroke-width="1.9"/>
<ellipse cx="1457.7" cy="118.4" rx="3.7" ry="4.7" fill="#fff" stroke="#ff0000" stroke-width="1.9"/>
<ellipse cx="1465.3" cy="114.2" rx="3.7" ry="4.7" fill="#fff" stroke="#ff0000" stroke-width="1.9"/>
<ellipse cx="1472.9" cy="109.1" rx="3.7" ry="4.7" fill="#fff" stroke="#ff0000" stroke-width="1.9"/>
<ellipse cx="1480.6" cy="103.4" rx="3.7" ry="4.7" fill="#fff" stroke="#ff0000" stroke-width="1.9"/>
<ellipse cx="1488.2" cy="98.3" rx="3.7" ry="4.7" fill="#fff" stroke="#ff0000" stroke-width="1.9"/>
<ellipse cx="1495.9" cy="91.5" rx="3.7" ry="4.7" fill="#fff" stroke="#ff0000" stroke-width="1.9"/>
<ellipse cx="1503.5" cy="85.8" rx="3.7" ry="4.7" fill="#fff" stroke="#ff0000" stroke-width="1.9"/>
<ellipse cx="1511.1" cy="81.6" rx="3.7" ry="4.7" fill="#fff" stroke="#ff0000" stroke-width="1.9"/>
<ellipse cx="1518.8" cy="77.4" rx="3.7" ry="4.7" fill="#fff" stroke="#ff0000" stroke-width="1.9"/>
<ellipse cx="1526.4" cy="72.2" rx="3.7" ry="4.7" fill="#fff" stroke="#ff0000" stroke-width="1.9"/>
<ellipse cx="1534" cy="65.6" rx="3.7" ry="4.7" fill="#fff" stroke="#ff0000" stroke-width="1.9"/>
<ellipse cx="1541.7" cy="59.7" rx="3.7" ry="4.7" fill="#fff" stroke="#ff0000" stroke-width="1.9"/>
<ellipse cx="1549.3" cy="52.9" rx="3.7" ry="4.7" fill="#fff" stroke="#ff0000" stroke-width="1.9"/>
<ellipse cx="1556.9" cy="46" rx="3.7" ry="4.7" fill="#fff" stroke="#ff0000" stroke-width="1.9"/>
<ellipse cx="1564.6" cy="39.3" rx="3.7" ry="4.7" fill="#fff" stroke="#ff0000" stroke-width="1.9"/>
<ellipse cx="1572.2" cy="33.3" rx="3.7" ry="4.7" fill="#fff" stroke="#ff0000" stroke-width="1.9"/>
<ellipse cx="1579.8" cy="28.3" rx="3.7" ry="4.7" fill="#fff" stroke="#ff0000" stroke-width="1.9"/>
<ellipse cx="1587.5" cy="24" rx="3.7" ry="4.7" fill="#fff" stroke="#ff0000" stroke-width="1.9"/>
<ellipse cx="1595.1" cy="21.4" rx="3.7" ry="4.7" fill="#fff" stroke="#ff0000" stroke-width="1.9"/>
<ellipse cx="1602.7" cy="20.4" rx="3.7" ry="4.7" fill="#fff" stroke="#ff0000" stroke-width="1.9"/>
<ellipse cx="1610.4" cy="21.1" rx="3.7" ry="4.7" fill="#fff" stroke="#ff0000" stroke-width="1.9"/>
<ellipse cx="1618" cy="24.2" rx="3.7" ry="4.7" fill="#fff" stroke="#ff0000" stroke-width="1.9"/>
<ellipse cx="1625.6" cy="28.1" rx="3.7" ry="4.7" fill="#fff" stroke="#ff0000" stroke-width="1.9"/>
<ellipse cx="1633.3" cy="33.1" rx="3.7" ry="4.7" fill="#fff" stroke="#ff0000" stroke-width="1.9"/>
<ellipse cx="1640.9" cy="37.7" rx="3.7" ry="4.7" fill="#fff" stroke="#ff0000" stroke-width="1.9"/>
<ellipse cx="1648.6" cy="44.2" rx="3.7" ry="4.7" fill="#fff" stroke="#ff0000" stroke-width="1.9"/>
<ellipse cx="1656.2" cy="50.5" rx="3.7" ry="4.7" fill="#fff" stroke="#ff0000" stroke-width="1.9"/>
<ellipse cx="1663.8" cy="59.7" rx="3.7" ry="4.7" fill="#fff" stroke="#ff0000" stroke-width="1.9"/>
<ellipse cx="1671.5" cy="69.8" rx="3.7" ry="4.7" fill="#fff" stroke="#ff0000" stroke-width="1.9"/>
<ellipse cx="1679.1" cy="81.3" rx="3.7" ry="4.7" fill="#fff" stroke="#ff0000" stroke-width="1.9"/>
<ellipse cx="1686.7" cy="94.9" rx="3.7" ry="4.7" fill="#fff" stroke="#ff0000" stroke-width="1.9"/>
<ellipse cx="1694.4" cy="107.6" rx="3.7" ry="4.7" fill="#fff" stroke="#ff0000" stroke-width="1.9"/>
<ellipse cx="1702" cy="120.7" rx="3.7" ry="4.7" fill="#fff" stroke="#ff0000" stroke-width="1.9"/>
<ellipse cx="1709.6" cy="131.7" rx="3.7" ry="4.7" fill="#fff" stroke="#ff0000" stroke-width="1.9"/>
<ellipse cx="1717.3" cy="139.3" rx="3.7" ry="4.7" fill="#fff" stroke="#ff0000" stroke-width="1.9"/>
<ellipse cx="1724.9" cy="143.6" rx="3.7" ry="4.7" fill="#fff" stroke="#ff0000" stroke-width="1.9"/>
<ellipse cx="1732.5" cy="141.9" rx="3.7" ry="4.7" fill="#fff" stroke="#ff0000" stroke-width="1.9"/>
<ellipse cx="1740.2" cy="135.4" rx="3.7" ry="4.7" fill="#fff" stroke="#ff0000" stroke-width="1.9"/>
<ellipse cx="1747.8" cy="123.1" rx="3.7" ry="4.7" fill="#fff" stroke="#ff0000" stroke-width="1.9"/>
<ellipse cx="1755.4" cy="109.5" rx="3.7" ry="4.7" fill="#fff" stroke="#ff0000" stroke-width="1.9"/>
<ellipse cx="1763.1" cy="96.9" rx="3.7" ry="4.7" fill="#fff" stroke="#ff0000" stroke-width="1.9"/>
<ellipse cx="1770.7" cy="84.1" rx="3.7" ry="4.7" fill="#fff" stroke="#ff0000" stroke-width="1.9"/>
<ellipse cx="1778.3" cy="74.7" rx="3.7" ry="4.7" fill="#fff" stroke="#ff0000" stroke-width="1.9"/>
<ellipse cx="1786" cy="68.3" rx="3.7" ry="4.7" fill="#fff" stroke="#ff0000" stroke-width="1.9"/>
<ellipse cx="1793.6" cy="68.6" rx="3.7" ry="4.7" fill="#fff" stroke="#ff0000" stroke-width="1.9"/>
<ellipse cx="1801.3" cy="76.1" rx="3.7" ry="4.7" fill="#fff" stroke="#ff0000" stroke-width="1.9"/>
<ellipse cx="1808.9" cy="96.9" rx="3.7" ry="4.7" fill="#fff" stroke="#ff0000" stroke-width="1.9"/>
<ellipse cx="1816.5" cy="128.8" rx="3.7" ry="4.7" fill="#fff" stroke="#ff0000" stroke-width="1.9"/>
<ellipse cx="1824.2" cy="169.5" rx="3.7" ry="4.7" fill="#fff" stroke="#ff0000" stroke-width="1.9"/>
<ellipse cx="1831.8" cy="213.4" rx="3.7" ry="4.7" fill="#fff" stroke="#ff0000" stroke-width="1.9"/>
<ellipse cx="1839.4" cy="238.7" rx="3.7" ry="4.7" fill="#fff" stroke="#ff0000" stroke-width="1.9"/>
<ellipse cx="1847.1" cy="248" rx="3.7" ry="4.7" fill="#fff" stroke="#ff0000" stroke-width="1.9"/>
<ellipse cx="1854.7" cy="252.9" rx="3.7" ry="4.7" fill="#fff" stroke="#ff0000" stroke-width="1.9"/>
<ellipse cx="1862.3" cy="255.4" rx="3.7" ry="4.7" fill="#fff" stroke="#ff0000" stroke-width="1.9"/>
<ellipse cx="1870" cy="255.9" rx="3.7" ry="4.7" fill="#fff" stroke="#ff0000" stroke-width="1.9"/>
<ellipse cx="1877.6" cy="256.1" rx="3.7" ry="4.7" fill="#fff" stroke="#ff0000" stroke-width="1.9"/>
<ellipse cx="1885.2" cy="256" rx="3.7" ry="4.7" fill="#fff" stroke="#ff0000" stroke-width="1.9"/>
</g>
<g clip-path="url(#ce)">
<path d="M1398.1,502.6 C1408.2,501.5 1418,500.3 1428.4,499.2 C1439.3,498.1 1450.9,497.1 1462.1,495.9 C1473.3,494.7 1484.6,492.8 1495.8,491.8 C1507,490.8 1518.2,490.3 1529.4,489.8 C1540.6,489.2 1551.9,488.9 1563.1,488.5 C1574.3,488.1 1585.6,487.6 1596.8,487.5 C1608,487.4 1619.3,487.6 1630.5,488.1 C1641.7,488.6 1653.6,489.5 1664.2,490.8 C1673.7,492 1682.8,494 1691.1,495.2 C1698.3,496.2 1704.9,497.9 1711.3,497.6 C1717.2,497.4 1723.2,496.7 1728.2,494.2 C1733.3,491.7 1736.9,486.8 1741.6,482.4 C1747,477.4 1752.7,470.8 1758.5,465.6 C1764,460.7 1770.1,456.7 1775.3,452.1 C1780.2,447.7 1784,442 1788.8,438.6 C1793.1,435.5 1798,431.3 1802.3,431.9 C1807,432.5 1812,438.9 1815.8,443.7 C1819.9,448.9 1823,455.9 1825.8,462.2 C1828.5,468.3 1829.6,475.2 1832.6,480.7 C1835.4,485.8 1838.3,490.9 1842.7,494.2 C1847.2,497.7 1852.9,499.4 1859.5,500.9 C1868.2,502.9 1880.5,502.5 1891,503.3" stroke="#0000ff" stroke-width="1.4" fill="none"/>
<ellipse cx="1396.6" cy="502.6" rx="4.6" ry="5.5" fill="#0000ff"/><circle cx="1396.6" cy="502.3" r="1.2" fill="#c8d0ff"/>
<ellipse cx="1404.2" cy="501.9" rx="4.6" ry="5.5" fill="#0000ff"/><circle cx="1404.2" cy="501.6" r="1.2" fill="#c8d0ff"/>
<ellipse cx="1411.9" cy="501" rx="4.6" ry="5.5" fill="#0000ff"/><circle cx="1411.9" cy="500.7" r="1.2" fill="#c8d0ff"/>
<ellipse cx="1419.5" cy="500.2" rx="4.6" ry="5.5" fill="#0000ff"/><circle cx="1419.5" cy="499.9" r="1.2" fill="#c8d0ff"/>
<ellipse cx="1427.1" cy="499.3" rx="4.6" ry="5.5" fill="#0000ff"/><circle cx="1427.1" cy="499" r="1.2" fill="#c8d0ff"/>
<ellipse cx="1434.8" cy="498.6" rx="4.6" ry="5.5" fill="#0000ff"/><circle cx="1434.8" cy="498.3" r="1.2" fill="#c8d0ff"/>
<ellipse cx="1442.4" cy="497.8" rx="4.6" ry="5.5" fill="#0000ff"/><circle cx="1442.4" cy="497.5" r="1.2" fill="#c8d0ff"/>
<ellipse cx="1450" cy="497.1" rx="4.6" ry="5.5" fill="#0000ff"/><circle cx="1450" cy="496.8" r="1.2" fill="#c8d0ff"/>
<ellipse cx="1457.7" cy="496.4" rx="4.6" ry="5.5" fill="#0000ff"/><circle cx="1457.7" cy="496.1" r="1.2" fill="#c8d0ff"/>
<ellipse cx="1465.3" cy="495.5" rx="4.6" ry="5.5" fill="#0000ff"/><circle cx="1465.3" cy="495.2" r="1.2" fill="#c8d0ff"/>
<ellipse cx="1472.9" cy="494.6" rx="4.6" ry="5.5" fill="#0000ff"/><circle cx="1472.9" cy="494.3" r="1.2" fill="#c8d0ff"/>
<ellipse cx="1480.6" cy="493.6" rx="4.6" ry="5.5" fill="#0000ff"/><circle cx="1480.6" cy="493.3" r="1.2" fill="#c8d0ff"/>
<ellipse cx="1488.2" cy="492.6" rx="4.6" ry="5.5" fill="#0000ff"/><circle cx="1488.2" cy="492.3" r="1.2" fill="#c8d0ff"/>
<ellipse cx="1495.9" cy="491.8" rx="4.6" ry="5.5" fill="#0000ff"/><circle cx="1495.9" cy="491.5" r="1.2" fill="#c8d0ff"/>
<ellipse cx="1503.5" cy="491.2" rx="4.6" ry="5.5" fill="#0000ff"/><circle cx="1503.5" cy="490.9" r="1.2" fill="#c8d0ff"/>
<ellipse cx="1511.1" cy="490.7" rx="4.6" ry="5.5" fill="#0000ff"/><circle cx="1511.1" cy="490.4" r="1.2" fill="#c8d0ff"/>
<ellipse cx="1518.8" cy="490.3" rx="4.6" ry="5.5" fill="#0000ff"/><circle cx="1518.8" cy="490" r="1.2" fill="#c8d0ff"/>
<ellipse cx="1526.4" cy="489.9" rx="4.6" ry="5.5" fill="#0000ff"/><circle cx="1526.4" cy="489.6" r="1.2" fill="#c8d0ff"/>
<ellipse cx="1534" cy="489.6" rx="4.6" ry="5.5" fill="#0000ff"/><circle cx="1534" cy="489.3" r="1.2" fill="#c8d0ff"/>
<ellipse cx="1541.7" cy="489.3" rx="4.6" ry="5.5" fill="#0000ff"/><circle cx="1541.7" cy="489" r="1.2" fill="#c8d0ff"/>
<ellipse cx="1549.3" cy="489" rx="4.6" ry="5.5" fill="#0000ff"/><circle cx="1549.3" cy="488.7" r="1.2" fill="#c8d0ff"/>
<ellipse cx="1556.9" cy="488.7" rx="4.6" ry="5.5" fill="#0000ff"/><circle cx="1556.9" cy="488.4" r="1.2" fill="#c8d0ff"/>
<ellipse cx="1564.6" cy="488.4" rx="4.6" ry="5.5" fill="#0000ff"/><circle cx="1564.6" cy="488.1" r="1.2" fill="#c8d0ff"/>
<ellipse cx="1572.2" cy="488.2" rx="4.6" ry="5.5" fill="#0000ff"/><circle cx="1572.2" cy="487.9" r="1.2" fill="#c8d0ff"/>
<ellipse cx="1579.8" cy="487.9" rx="4.6" ry="5.5" fill="#0000ff"/><circle cx="1579.8" cy="487.6" r="1.2" fill="#c8d0ff"/>
<ellipse cx="1587.5" cy="487.7" rx="4.6" ry="5.5" fill="#0000ff"/><circle cx="1587.5" cy="487.4" r="1.2" fill="#c8d0ff"/>
<ellipse cx="1595.1" cy="487.5" rx="4.6" ry="5.5" fill="#0000ff"/><circle cx="1595.1" cy="487.2" r="1.2" fill="#c8d0ff"/>
<ellipse cx="1602.7" cy="487.5" rx="4.6" ry="5.5" fill="#0000ff"/><circle cx="1602.7" cy="487.2" r="1.2" fill="#c8d0ff"/>
<ellipse cx="1610.4" cy="487.5" rx="4.6" ry="5.5" fill="#0000ff"/><circle cx="1610.4" cy="487.2" r="1.2" fill="#c8d0ff"/>
<ellipse cx="1618" cy="487.7" rx="4.6" ry="5.5" fill="#0000ff"/><circle cx="1618" cy="487.4" r="1.2" fill="#c8d0ff"/>
<ellipse cx="1625.6" cy="487.9" rx="4.6" ry="5.5" fill="#0000ff"/><circle cx="1625.6" cy="487.6" r="1.2" fill="#c8d0ff"/>
<ellipse cx="1633.3" cy="488.2" rx="4.6" ry="5.5" fill="#0000ff"/><circle cx="1633.3" cy="487.9" r="1.2" fill="#c8d0ff"/>
<ellipse cx="1640.9" cy="488.7" rx="4.6" ry="5.5" fill="#0000ff"/><circle cx="1640.9" cy="488.4" r="1.2" fill="#c8d0ff"/>
<ellipse cx="1648.6" cy="489.3" rx="4.6" ry="5.5" fill="#0000ff"/><circle cx="1648.6" cy="489" r="1.2" fill="#c8d0ff"/>
<ellipse cx="1656.2" cy="489.9" rx="4.6" ry="5.5" fill="#0000ff"/><circle cx="1656.2" cy="489.6" r="1.2" fill="#c8d0ff"/>
<ellipse cx="1663.8" cy="490.8" rx="4.6" ry="5.5" fill="#0000ff"/><circle cx="1663.8" cy="490.5" r="1.2" fill="#c8d0ff"/>
<ellipse cx="1671.5" cy="491.8" rx="4.6" ry="5.5" fill="#0000ff"/><circle cx="1671.5" cy="491.5" r="1.2" fill="#c8d0ff"/>
<ellipse cx="1679.1" cy="493.2" rx="4.6" ry="5.5" fill="#0000ff"/><circle cx="1679.1" cy="492.9" r="1.2" fill="#c8d0ff"/>
<ellipse cx="1686.7" cy="494.5" rx="4.6" ry="5.5" fill="#0000ff"/><circle cx="1686.7" cy="494.2" r="1.2" fill="#c8d0ff"/>
<ellipse cx="1694.4" cy="495.7" rx="4.6" ry="5.5" fill="#0000ff"/><circle cx="1694.4" cy="495.4" r="1.2" fill="#c8d0ff"/>
<ellipse cx="1702" cy="496.9" rx="4.6" ry="5.5" fill="#0000ff"/><circle cx="1702" cy="496.6" r="1.2" fill="#c8d0ff"/>
<ellipse cx="1709.6" cy="497.6" rx="4.6" ry="5.5" fill="#0000ff"/><circle cx="1709.6" cy="497.3" r="1.2" fill="#c8d0ff"/>
<ellipse cx="1717.3" cy="497.1" rx="4.6" ry="5.5" fill="#0000ff"/><circle cx="1717.3" cy="496.8" r="1.2" fill="#c8d0ff"/>
<ellipse cx="1724.9" cy="495.5" rx="4.6" ry="5.5" fill="#0000ff"/><circle cx="1724.9" cy="495.2" r="1.2" fill="#c8d0ff"/>
<ellipse cx="1732.5" cy="491.3" rx="4.6" ry="5.5" fill="#0000ff"/><circle cx="1732.5" cy="491" r="1.2" fill="#c8d0ff"/>
<ellipse cx="1740.2" cy="483.8" rx="4.6" ry="5.5" fill="#0000ff"/><circle cx="1740.2" cy="483.5" r="1.2" fill="#c8d0ff"/>
<ellipse cx="1747.8" cy="476.2" rx="4.6" ry="5.5" fill="#0000ff"/><circle cx="1747.8" cy="475.9" r="1.2" fill="#c8d0ff"/>
<ellipse cx="1755.4" cy="468.5" rx="4.6" ry="5.5" fill="#0000ff"/><circle cx="1755.4" cy="468.2" r="1.2" fill="#c8d0ff"/>
<ellipse cx="1763.1" cy="461.8" rx="4.6" ry="5.5" fill="#0000ff"/><circle cx="1763.1" cy="461.5" r="1.2" fill="#c8d0ff"/>
<ellipse cx="1770.7" cy="455.9" rx="4.6" ry="5.5" fill="#0000ff"/><circle cx="1770.7" cy="455.6" r="1.2" fill="#c8d0ff"/>
<ellipse cx="1778.3" cy="449.1" rx="4.6" ry="5.5" fill="#0000ff"/><circle cx="1778.3" cy="448.8" r="1.2" fill="#c8d0ff"/>
<ellipse cx="1786" cy="440.9" rx="4.6" ry="5.5" fill="#0000ff"/><circle cx="1786" cy="440.6" r="1.2" fill="#c8d0ff"/>
<ellipse cx="1793.6" cy="435.1" rx="4.6" ry="5.5" fill="#0000ff"/><circle cx="1793.6" cy="434.8" r="1.2" fill="#c8d0ff"/>
<ellipse cx="1801.3" cy="431.9" rx="4.6" ry="5.5" fill="#0000ff"/><circle cx="1801.3" cy="431.6" r="1.2" fill="#c8d0ff"/>
<ellipse cx="1808.9" cy="435.8" rx="4.6" ry="5.5" fill="#0000ff"/><circle cx="1808.9" cy="435.5" r="1.2" fill="#c8d0ff"/>
<ellipse cx="1816.5" cy="444.7" rx="4.6" ry="5.5" fill="#0000ff"/><circle cx="1816.5" cy="444.4" r="1.2" fill="#c8d0ff"/>
<ellipse cx="1824.2" cy="458.6" rx="4.6" ry="5.5" fill="#0000ff"/><circle cx="1824.2" cy="458.3" r="1.2" fill="#c8d0ff"/>
<ellipse cx="1831.8" cy="479.1" rx="4.6" ry="5.5" fill="#0000ff"/><circle cx="1831.8" cy="478.8" r="1.2" fill="#c8d0ff"/>
<ellipse cx="1839.4" cy="491.1" rx="4.6" ry="5.5" fill="#0000ff"/><circle cx="1839.4" cy="490.8" r="1.2" fill="#c8d0ff"/>
<ellipse cx="1847.1" cy="496.9" rx="4.6" ry="5.5" fill="#0000ff"/><circle cx="1847.1" cy="496.6" r="1.2" fill="#c8d0ff"/>
<ellipse cx="1854.7" cy="499.7" rx="4.6" ry="5.5" fill="#0000ff"/><circle cx="1854.7" cy="499.4" r="1.2" fill="#c8d0ff"/>
<ellipse cx="1862.3" cy="501.5" rx="4.6" ry="5.5" fill="#0000ff"/><circle cx="1862.3" cy="501.2" r="1.2" fill="#c8d0ff"/>
<ellipse cx="1870" cy="502.3" rx="4.6" ry="5.5" fill="#0000ff"/><circle cx="1870" cy="502" r="1.2" fill="#c8d0ff"/>
<ellipse cx="1877.6" cy="502.7" rx="4.6" ry="5.5" fill="#0000ff"/><circle cx="1877.6" cy="502.4" r="1.2" fill="#c8d0ff"/>
<ellipse cx="1885.2" cy="503" rx="4.6" ry="5.5" fill="#0000ff"/><circle cx="1885.2" cy="502.7" r="1.2" fill="#c8d0ff"/>
</g>
<g clip-path="url(#ce)">
<path d="M1398.1,381.4 C1401.5,380.3 1404.6,379 1408.2,378 C1412.3,376.9 1417.2,376.2 1421.7,375.3 C1426.2,374.5 1430.7,374 1435.1,372.9 C1439.6,371.8 1444.2,370.5 1448.6,368.6 C1453.2,366.6 1457.6,363.7 1462.1,361.1 C1466.6,358.4 1471.2,355.9 1475.6,352.7 C1480.2,349.3 1484.4,344.3 1489,340.9 C1493.4,337.7 1497.9,335 1502.5,332.5 C1506.9,330 1511.6,328.3 1516,325.8 C1520.5,323.3 1525,320.4 1529.4,317.4 C1534,314.3 1538.5,310.9 1542.9,307.3 C1547.5,303.6 1551.8,299 1556.4,295.5 C1560.8,292.2 1565.3,289.5 1569.9,287 C1574.3,284.6 1578.7,282.4 1583.3,281 C1587.7,279.6 1592.3,278.4 1596.8,278.6 C1601.3,278.8 1605.9,280.4 1610.3,282 C1614.9,283.7 1619.4,286 1623.8,288.7 C1628.4,291.5 1632.9,295 1637.2,298.8 C1641.8,302.8 1646.3,307.4 1650.7,312.3 C1655.3,317.5 1659.9,323.1 1664.2,329.2 C1668.9,335.9 1673.1,343.9 1677.6,351 C1682,357.9 1686.3,365.4 1691.1,371.3 C1695.4,376.5 1699.7,381.6 1704.6,384.7 C1708.8,387.4 1713.8,390.4 1718.1,389.8 C1722.8,389.1 1727.2,383.7 1731.5,379.7 C1736.2,375.3 1740.3,369.1 1745,364.5 C1749.4,360.2 1754,354.8 1758.5,352.7 C1761.9,351.1 1765.4,350.1 1768.6,351 C1772.2,352 1775.6,355.8 1778.7,359.5 C1782.6,364.2 1785.6,370.6 1788.8,378 C1793.1,388.1 1796.9,404.1 1800.6,415 C1803.6,423.8 1806.4,431 1809,438.6 C1811.4,445.6 1813.4,451.8 1815.8,458.8 C1818.4,466.4 1820.2,475.3 1824.2,482.4 C1828.1,489.3 1833.8,497.6 1839.3,500.9 C1843.5,503.4 1848.3,502.9 1852.8,503.3 C1857.3,503.7 1861.1,503.2 1866.3,503.3 C1873.3,503.4 1882.8,504 1891,504.3" stroke="#ff0000" stroke-width="1.4" fill="none"/>
<ellipse cx="1396.6" cy="381.4" rx="3.7" ry="4.7" fill="#fff" stroke="#ff0000" stroke-width="1.9"/>
<ellipse cx="1404.2" cy="379.2" rx="3.7" ry="4.7" fill="#fff" stroke="#ff0000" stroke-width="1.9"/>
<ellipse cx="1411.9" cy="377.1" rx="3.7" ry="4.7" fill="#fff" stroke="#ff0000" stroke-width="1.9"/>
<ellipse cx="1419.5" cy="375.7" rx="3.7" ry="4.7" fill="#fff" stroke="#ff0000" stroke-width="1.9"/>
<ellipse cx="1427.1" cy="374.4" rx="3.7" ry="4.7" fill="#fff" stroke="#ff0000" stroke-width="1.9"/>
<ellipse cx="1434.8" cy="373" rx="3.7" ry="4.7" fill="#fff" stroke="#ff0000" stroke-width="1.9"/>
<ellipse cx="1442.4" cy="370.9" rx="3.7" ry="4.7" fill="#fff" stroke="#ff0000" stroke-width="1.9"/>
<ellipse cx="1450" cy="367.9" rx="3.7" ry="4.7" fill="#fff" stroke="#ff0000" stroke-width="1.9"/>
<ellipse cx="1457.7" cy="363.7" rx="3.7" ry="4.7" fill="#fff" stroke="#ff0000" stroke-width="1.9"/>
<ellipse cx="1465.3" cy="359.2" rx="3.7" ry="4.7" fill="#fff" stroke="#ff0000" stroke-width="1.9"/>
<ellipse cx="1472.9" cy="354.6" rx="3.7" ry="4.7" fill="#fff" stroke="#ff0000" stroke-width="1.9"/>
<ellipse cx="1480.6" cy="348.4" rx="3.7" ry="4.7" fill="#fff" stroke="#ff0000" stroke-width="1.9"/>
<ellipse cx="1488.2" cy="341.5" rx="3.7" ry="4.7" fill="#fff" stroke="#ff0000" stroke-width="1.9"/>
<ellipse cx="1495.9" cy="336.3" rx="3.7" ry="4.7" fill="#fff" stroke="#ff0000" stroke-width="1.9"/>
<ellipse cx="1503.5" cy="332" rx="3.7" ry="4.7" fill="#fff" stroke="#ff0000" stroke-width="1.9"/>
<ellipse cx="1511.1" cy="328.3" rx="3.7" ry="4.7" fill="#fff" stroke="#ff0000" stroke-width="1.9"/>
<ellipse cx="1518.8" cy="324.2" rx="3.7" ry="4.7" fill="#fff" stroke="#ff0000" stroke-width="1.9"/>
<ellipse cx="1526.4" cy="319.4" rx="3.7" ry="4.7" fill="#fff" stroke="#ff0000" stroke-width="1.9"/>
<ellipse cx="1534" cy="314.1" rx="3.7" ry="4.7" fill="#fff" stroke="#ff0000" stroke-width="1.9"/>
<ellipse cx="1541.7" cy="308.3" rx="3.7" ry="4.7" fill="#fff" stroke="#ff0000" stroke-width="1.9"/>
<ellipse cx="1549.3" cy="301.6" rx="3.7" ry="4.7" fill="#fff" stroke="#ff0000" stroke-width="1.9"/>
<ellipse cx="1556.9" cy="295.1" rx="3.7" ry="4.7" fill="#fff" stroke="#ff0000" stroke-width="1.9"/>
<ellipse cx="1564.6" cy="290" rx="3.7" ry="4.7" fill="#fff" stroke="#ff0000" stroke-width="1.9"/>
<ellipse cx="1572.2" cy="285.8" rx="3.7" ry="4.7" fill="#fff" stroke="#ff0000" stroke-width="1.9"/>
<ellipse cx="1579.8" cy="282.2" rx="3.7" ry="4.7" fill="#fff" stroke="#ff0000" stroke-width="1.9"/>
<ellipse cx="1587.5" cy="279.8" rx="3.7" ry="4.7" fill="#fff" stroke="#ff0000" stroke-width="1.9"/>
<ellipse cx="1595.1" cy="278.6" rx="3.7" ry="4.7" fill="#fff" stroke="#ff0000" stroke-width="1.9"/>
<ellipse cx="1602.7" cy="279.5" rx="3.7" ry="4.7" fill="#fff" stroke="#ff0000" stroke-width="1.9"/>
<ellipse cx="1610.4" cy="282" rx="3.7" ry="4.7" fill="#fff" stroke="#ff0000" stroke-width="1.9"/>
<ellipse cx="1618" cy="285.4" rx="3.7" ry="4.7" fill="#fff" stroke="#ff0000" stroke-width="1.9"/>
<ellipse cx="1625.6" cy="289.9" rx="3.7" ry="4.7" fill="#fff" stroke="#ff0000" stroke-width="1.9"/>
<ellipse cx="1633.3" cy="295.5" rx="3.7" ry="4.7" fill="#fff" stroke="#ff0000" stroke-width="1.9"/>
<ellipse cx="1640.9" cy="302.2" rx="3.7" ry="4.7" fill="#fff" stroke="#ff0000" stroke-width="1.9"/>
<ellipse cx="1648.6" cy="309.9" rx="3.7" ry="4.7" fill="#fff" stroke="#ff0000" stroke-width="1.9"/>
<ellipse cx="1656.2" cy="318.7" rx="3.7" ry="4.7" fill="#fff" stroke="#ff0000" stroke-width="1.9"/>
<ellipse cx="1663.8" cy="328.7" rx="3.7" ry="4.7" fill="#fff" stroke="#ff0000" stroke-width="1.9"/>
<ellipse cx="1671.5" cy="340.8" rx="3.7" ry="4.7" fill="#fff" stroke="#ff0000" stroke-width="1.9"/>
<ellipse cx="1679.1" cy="353.4" rx="3.7" ry="4.7" fill="#fff" stroke="#ff0000" stroke-width="1.9"/>
<ellipse cx="1686.7" cy="365.4" rx="3.7" ry="4.7" fill="#fff" stroke="#ff0000" stroke-width="1.9"/>
<ellipse cx="1694.4" cy="375.2" rx="3.7" ry="4.7" fill="#fff" stroke="#ff0000" stroke-width="1.9"/>
<ellipse cx="1702" cy="382.8" rx="3.7" ry="4.7" fill="#fff" stroke="#ff0000" stroke-width="1.9"/>
<ellipse cx="1709.6" cy="387.7" rx="3.7" ry="4.7" fill="#fff" stroke="#ff0000" stroke-width="1.9"/>
<ellipse cx="1717.3" cy="389.9" rx="3.7" ry="4.7" fill="#fff" stroke="#ff0000" stroke-width="1.9"/>
<ellipse cx="1724.9" cy="386" rx="3.7" ry="4.7" fill="#fff" stroke="#ff0000" stroke-width="1.9"/>
<ellipse cx="1732.5" cy="378.7" rx="3.7" ry="4.7" fill="#fff" stroke="#ff0000" stroke-width="1.9"/>
<ellipse cx="1740.2" cy="369.9" rx="3.7" ry="4.7" fill="#fff" stroke="#ff0000" stroke-width="1.9"/>
<ellipse cx="1747.8" cy="361.7" rx="3.7" ry="4.7" fill="#fff" stroke="#ff0000" stroke-width="1.9"/>
<ellipse cx="1755.4" cy="354.6" rx="3.7" ry="4.7" fill="#fff" stroke="#ff0000" stroke-width="1.9"/>
<ellipse cx="1763.1" cy="351" rx="3.7" ry="4.7" fill="#fff" stroke="#ff0000" stroke-width="1.9"/>
<ellipse cx="1770.7" cy="351.9" rx="3.7" ry="4.7" fill="#fff" stroke="#ff0000" stroke-width="1.9"/>
<ellipse cx="1778.3" cy="359.1" rx="3.7" ry="4.7" fill="#fff" stroke="#ff0000" stroke-width="1.9"/>
<ellipse cx="1786" cy="371.7" rx="3.7" ry="4.7" fill="#fff" stroke="#ff0000" stroke-width="1.9"/>
<ellipse cx="1793.6" cy="391.8" rx="3.7" ry="4.7" fill="#fff" stroke="#ff0000" stroke-width="1.9"/>
<ellipse cx="1801.3" cy="416.9" rx="3.7" ry="4.7" fill="#fff" stroke="#ff0000" stroke-width="1.9"/>
<ellipse cx="1808.9" cy="438.3" rx="3.7" ry="4.7" fill="#fff" stroke="#ff0000" stroke-width="1.9"/>
<ellipse cx="1816.5" cy="461" rx="3.7" ry="4.7" fill="#fff" stroke="#ff0000" stroke-width="1.9"/>
<ellipse cx="1824.2" cy="482.3" rx="3.7" ry="4.7" fill="#fff" stroke="#ff0000" stroke-width="1.9"/>
<ellipse cx="1831.8" cy="493.8" rx="3.7" ry="4.7" fill="#fff" stroke="#ff0000" stroke-width="1.9"/>
<ellipse cx="1839.4" cy="501" rx="3.7" ry="4.7" fill="#fff" stroke="#ff0000" stroke-width="1.9"/>
<ellipse cx="1847.1" cy="503" rx="3.7" ry="4.7" fill="#fff" stroke="#ff0000" stroke-width="1.9"/>
<ellipse cx="1854.7" cy="503.4" rx="3.7" ry="4.7" fill="#fff" stroke="#ff0000" stroke-width="1.9"/>
<ellipse cx="1862.3" cy="503.3" rx="3.7" ry="4.7" fill="#fff" stroke="#ff0000" stroke-width="1.9"/>
<ellipse cx="1870" cy="503.4" rx="3.7" ry="4.7" fill="#fff" stroke="#ff0000" stroke-width="1.9"/>
<ellipse cx="1877.6" cy="503.7" rx="3.7" ry="4.7" fill="#fff" stroke="#ff0000" stroke-width="1.9"/>
<ellipse cx="1885.2" cy="504" rx="3.7" ry="4.7" fill="#fff" stroke="#ff0000" stroke-width="1.9"/>
</g>
<g clip-path="url(#cf)">
<path d="M1398.1,638.1 C1402.6,636.4 1406.8,634.6 1411.6,633 C1416.9,631.2 1422.8,629.4 1428.4,628 C1434,626.6 1440.3,625.7 1445.2,624.6 C1449,623.7 1451.9,623.3 1455.4,621.9 C1459.7,620.2 1464.4,617.1 1468.8,614.5 C1473.3,611.8 1477.9,609.1 1482.3,606.1 C1486.9,603 1491.2,599 1495.8,596 C1500.2,593.1 1504.6,590.2 1509.2,588.2 C1513.6,586.3 1518.3,586.2 1522.7,584.2 C1527.3,582.1 1531.7,578.7 1536.2,575.8 C1540.7,572.9 1545.2,569.8 1549.7,566.7 C1554.2,563.6 1558.5,560 1563.1,557.3 C1567.5,554.7 1572,552.3 1576.6,550.5 C1581,548.7 1585.6,547.3 1590.1,546.5 C1594.5,545.7 1599.1,545.1 1603.5,545.5 C1608,545.9 1612.6,547.3 1617,548.8 C1621.6,550.3 1626.1,552.4 1630.5,554.6 C1635.1,556.9 1639.5,559.6 1644,562.3 C1648.5,565 1653.1,567.3 1657.4,570.7 C1662.1,574.5 1666.6,579 1670.9,584.2 C1675.7,590.1 1679.8,597.9 1684.4,604.4 C1688.8,610.7 1693.1,617.4 1697.8,622.9 C1702.1,627.9 1706.8,633.9 1711.3,636.4 C1714.6,638.3 1718.1,639.3 1721.4,638.8 C1724.9,638.3 1728.3,636.1 1731.5,633 C1736.3,628.3 1740.6,618.7 1745,611.1 C1749.6,603.1 1753.7,593.5 1758.5,585.9 C1762.8,579.1 1767.2,571.7 1772,567.4 C1775.7,564.1 1779.9,560.7 1783.7,560.6 C1787.2,560.5 1791,563 1793.9,565.7 C1797.4,568.9 1799.7,574 1802.3,579.2 C1805.4,585.5 1808.3,592.7 1810.7,601 C1813.6,611.3 1815,624.1 1817.4,636.4 C1820,649.8 1823.2,664.9 1825.8,678.5 C1828.2,691.2 1830,704.9 1832.6,715.6 C1834.6,723.9 1835.2,732.7 1839.3,737.5 C1842.6,741.4 1847.7,742.3 1852.8,744.2 C1858.8,746.4 1866.4,748.1 1873,749.2 C1879.1,750.2 1885,750.3 1891,750.9" stroke="#0000ff" stroke-width="1.4" fill="none"/>
<ellipse cx="1396.6" cy="638.1" rx="4.6" ry="5.5" fill="#0000ff"/><circle cx="1396.6" cy="637.8" r="1.2" fill="#c8d0ff"/>
<ellipse cx="1404.2" cy="635.7" rx="4.6" ry="5.5" fill="#0000ff"/><circle cx="1404.2" cy="635.4" r="1.2" fill="#c8d0ff"/>
<ellipse cx="1411.9" cy="632.9" rx="4.6" ry="5.5" fill="#0000ff"/><circle cx="1411.9" cy="632.6" r="1.2" fill="#c8d0ff"/>
<ellipse cx="1419.5" cy="630.5" rx="4.6" ry="5.5" fill="#0000ff"/><circle cx="1419.5" cy="630.2" r="1.2" fill="#c8d0ff"/>
<ellipse cx="1427.1" cy="628.3" rx="4.6" ry="5.5" fill="#0000ff"/><circle cx="1427.1" cy="628" r="1.2" fill="#c8d0ff"/>
<ellipse cx="1434.8" cy="626.6" rx="4.6" ry="5.5" fill="#0000ff"/><circle cx="1434.8" cy="626.3" r="1.2" fill="#c8d0ff"/>
<ellipse cx="1442.4" cy="625.2" rx="4.6" ry="5.5" fill="#0000ff"/><circle cx="1442.4" cy="624.9" r="1.2" fill="#c8d0ff"/>
<ellipse cx="1450" cy="623.5" rx="4.6" ry="5.5" fill="#0000ff"/><circle cx="1450" cy="623.2" r="1.2" fill="#c8d0ff"/>
<ellipse cx="1457.7" cy="620.9" rx="4.6" ry="5.5" fill="#0000ff"/><circle cx="1457.7" cy="620.6" r="1.2" fill="#c8d0ff"/>
<ellipse cx="1465.3" cy="616.6" rx="4.6" ry="5.5" fill="#0000ff"/><circle cx="1465.3" cy="616.3" r="1.2" fill="#c8d0ff"/>
<ellipse cx="1472.9" cy="612" rx="4.6" ry="5.5" fill="#0000ff"/><circle cx="1472.9" cy="611.7" r="1.2" fill="#c8d0ff"/>
<ellipse cx="1480.6" cy="607.3" rx="4.6" ry="5.5" fill="#0000ff"/><circle cx="1480.6" cy="607" r="1.2" fill="#c8d0ff"/>
<ellipse cx="1488.2" cy="601.7" rx="4.6" ry="5.5" fill="#0000ff"/><circle cx="1488.2" cy="601.4" r="1.2" fill="#c8d0ff"/>
<ellipse cx="1495.9" cy="596" rx="4.6" ry="5.5" fill="#0000ff"/><circle cx="1495.9" cy="595.7" r="1.2" fill="#c8d0ff"/>
<ellipse cx="1503.5" cy="591.1" rx="4.6" ry="5.5" fill="#0000ff"/><circle cx="1503.5" cy="590.8" r="1.2" fill="#c8d0ff"/>
<ellipse cx="1511.1" cy="587.5" rx="4.6" ry="5.5" fill="#0000ff"/><circle cx="1511.1" cy="587.2" r="1.2" fill="#c8d0ff"/>
<ellipse cx="1518.8" cy="585.6" rx="4.6" ry="5.5" fill="#0000ff"/><circle cx="1518.8" cy="585.3" r="1.2" fill="#c8d0ff"/>
<ellipse cx="1526.4" cy="582.3" rx="4.6" ry="5.5" fill="#0000ff"/><circle cx="1526.4" cy="582" r="1.2" fill="#c8d0ff"/>
<ellipse cx="1534" cy="577.2" rx="4.6" ry="5.5" fill="#0000ff"/><circle cx="1534" cy="576.9" r="1.2" fill="#c8d0ff"/>
<ellipse cx="1541.7" cy="572.2" rx="4.6" ry="5.5" fill="#0000ff"/><circle cx="1541.7" cy="571.9" r="1.2" fill="#c8d0ff"/>
<ellipse cx="1549.3" cy="567" rx="4.6" ry="5.5" fill="#0000ff"/><circle cx="1549.3" cy="566.7" r="1.2" fill="#c8d0ff"/>
<ellipse cx="1556.9" cy="561.5" rx="4.6" ry="5.5" fill="#0000ff"/><circle cx="1556.9" cy="561.2" r="1.2" fill="#c8d0ff"/>
<ellipse cx="1564.6" cy="556.4" rx="4.6" ry="5.5" fill="#0000ff"/><circle cx="1564.6" cy="556.1" r="1.2" fill="#c8d0ff"/>
<ellipse cx="1572.2" cy="552.4" rx="4.6" ry="5.5" fill="#0000ff"/><circle cx="1572.2" cy="552.1" r="1.2" fill="#c8d0ff"/>
<ellipse cx="1579.8" cy="549.3" rx="4.6" ry="5.5" fill="#0000ff"/><circle cx="1579.8" cy="549" r="1.2" fill="#c8d0ff"/>
<ellipse cx="1587.5" cy="547" rx="4.6" ry="5.5" fill="#0000ff"/><circle cx="1587.5" cy="546.7" r="1.2" fill="#c8d0ff"/>
<ellipse cx="1595.1" cy="545.7" rx="4.6" ry="5.5" fill="#0000ff"/><circle cx="1595.1" cy="545.4" r="1.2" fill="#c8d0ff"/>
<ellipse cx="1602.7" cy="545.5" rx="4.6" ry="5.5" fill="#0000ff"/><circle cx="1602.7" cy="545.2" r="1.2" fill="#c8d0ff"/>
<ellipse cx="1610.4" cy="546.8" rx="4.6" ry="5.5" fill="#0000ff"/><circle cx="1610.4" cy="546.5" r="1.2" fill="#c8d0ff"/>
<ellipse cx="1618" cy="549.2" rx="4.6" ry="5.5" fill="#0000ff"/><circle cx="1618" cy="548.9" r="1.2" fill="#c8d0ff"/>
<ellipse cx="1625.6" cy="552.3" rx="4.6" ry="5.5" fill="#0000ff"/><circle cx="1625.6" cy="552" r="1.2" fill="#c8d0ff"/>
<ellipse cx="1633.3" cy="556" rx="4.6" ry="5.5" fill="#0000ff"/><circle cx="1633.3" cy="555.7" r="1.2" fill="#c8d0ff"/>
<ellipse cx="1640.9" cy="560.5" rx="4.6" ry="5.5" fill="#0000ff"/><circle cx="1640.9" cy="560.2" r="1.2" fill="#c8d0ff"/>
<ellipse cx="1648.6" cy="564.9" rx="4.6" ry="5.5" fill="#0000ff"/><circle cx="1648.6" cy="564.6" r="1.2" fill="#c8d0ff"/>
<ellipse cx="1656.2" cy="569.8" rx="4.6" ry="5.5" fill="#0000ff"/><circle cx="1656.2" cy="569.5" r="1.2" fill="#c8d0ff"/>
<ellipse cx="1663.8" cy="576.4" rx="4.6" ry="5.5" fill="#0000ff"/><circle cx="1663.8" cy="576.1" r="1.2" fill="#c8d0ff"/>
<ellipse cx="1671.5" cy="584.9" rx="4.6" ry="5.5" fill="#0000ff"/><circle cx="1671.5" cy="584.6" r="1.2" fill="#c8d0ff"/>
<ellipse cx="1679.1" cy="596.2" rx="4.6" ry="5.5" fill="#0000ff"/><circle cx="1679.1" cy="595.9" r="1.2" fill="#c8d0ff"/>
<ellipse cx="1686.7" cy="607.8" rx="4.6" ry="5.5" fill="#0000ff"/><circle cx="1686.7" cy="607.5" r="1.2" fill="#c8d0ff"/>
<ellipse cx="1694.4" cy="618.6" rx="4.6" ry="5.5" fill="#0000ff"/><circle cx="1694.4" cy="618.3" r="1.2" fill="#c8d0ff"/>
<ellipse cx="1702" cy="627.8" rx="4.6" ry="5.5" fill="#0000ff"/><circle cx="1702" cy="627.5" r="1.2" fill="#c8d0ff"/>
<ellipse cx="1709.6" cy="635.3" rx="4.6" ry="5.5" fill="#0000ff"/><circle cx="1709.6" cy="635" r="1.2" fill="#c8d0ff"/>
<ellipse cx="1717.3" cy="638.7" rx="4.6" ry="5.5" fill="#0000ff"/><circle cx="1717.3" cy="638.4" r="1.2" fill="#c8d0ff"/>
<ellipse cx="1724.9" cy="637.7" rx="4.6" ry="5.5" fill="#0000ff"/><circle cx="1724.9" cy="637.4" r="1.2" fill="#c8d0ff"/>
<ellipse cx="1732.5" cy="631.9" rx="4.6" ry="5.5" fill="#0000ff"/><circle cx="1732.5" cy="631.6" r="1.2" fill="#c8d0ff"/>
<ellipse cx="1740.2" cy="619.9" rx="4.6" ry="5.5" fill="#0000ff"/><circle cx="1740.2" cy="619.6" r="1.2" fill="#c8d0ff"/>
<ellipse cx="1747.8" cy="606" rx="4.6" ry="5.5" fill="#0000ff"/><circle cx="1747.8" cy="605.7" r="1.2" fill="#c8d0ff"/>
<ellipse cx="1755.4" cy="591.2" rx="4.6" ry="5.5" fill="#0000ff"/><circle cx="1755.4" cy="590.9" r="1.2" fill="#c8d0ff"/>
<ellipse cx="1763.1" cy="578.7" rx="4.6" ry="5.5" fill="#0000ff"/><circle cx="1763.1" cy="578.4" r="1.2" fill="#c8d0ff"/>
<ellipse cx="1770.7" cy="568.6" rx="4.6" ry="5.5" fill="#0000ff"/><circle cx="1770.7" cy="568.3" r="1.2" fill="#c8d0ff"/>
<ellipse cx="1778.3" cy="562.5" rx="4.6" ry="5.5" fill="#0000ff"/><circle cx="1778.3" cy="562.2" r="1.2" fill="#c8d0ff"/>
<ellipse cx="1786" cy="560.9" rx="4.6" ry="5.5" fill="#0000ff"/><circle cx="1786" cy="560.6" r="1.2" fill="#c8d0ff"/>
<ellipse cx="1793.6" cy="565.5" rx="4.6" ry="5.5" fill="#0000ff"/><circle cx="1793.6" cy="565.2" r="1.2" fill="#c8d0ff"/>
<ellipse cx="1801.3" cy="577.1" rx="4.6" ry="5.5" fill="#0000ff"/><circle cx="1801.3" cy="576.8" r="1.2" fill="#c8d0ff"/>
<ellipse cx="1808.9" cy="595.2" rx="4.6" ry="5.5" fill="#0000ff"/><circle cx="1808.9" cy="594.9" r="1.2" fill="#c8d0ff"/>
<ellipse cx="1816.5" cy="631.6" rx="4.6" ry="5.5" fill="#0000ff"/><circle cx="1816.5" cy="631.3" r="1.2" fill="#c8d0ff"/>
<ellipse cx="1824.2" cy="670.1" rx="4.6" ry="5.5" fill="#0000ff"/><circle cx="1824.2" cy="669.8" r="1.2" fill="#c8d0ff"/>
<ellipse cx="1831.8" cy="712.1" rx="4.6" ry="5.5" fill="#0000ff"/><circle cx="1831.8" cy="711.8" r="1.2" fill="#c8d0ff"/>
<ellipse cx="1839.4" cy="737.6" rx="4.6" ry="5.5" fill="#0000ff"/><circle cx="1839.4" cy="737.3" r="1.2" fill="#c8d0ff"/>
<ellipse cx="1847.1" cy="742.2" rx="4.6" ry="5.5" fill="#0000ff"/><circle cx="1847.1" cy="741.9" r="1.2" fill="#c8d0ff"/>
<ellipse cx="1854.7" cy="744.9" rx="4.6" ry="5.5" fill="#0000ff"/><circle cx="1854.7" cy="744.6" r="1.2" fill="#c8d0ff"/>
<ellipse cx="1862.3" cy="747" rx="4.6" ry="5.5" fill="#0000ff"/><circle cx="1862.3" cy="746.7" r="1.2" fill="#c8d0ff"/>
<ellipse cx="1870" cy="748.7" rx="4.6" ry="5.5" fill="#0000ff"/><circle cx="1870" cy="748.4" r="1.2" fill="#c8d0ff"/>
<ellipse cx="1877.6" cy="749.8" rx="4.6" ry="5.5" fill="#0000ff"/><circle cx="1877.6" cy="749.5" r="1.2" fill="#c8d0ff"/>
<ellipse cx="1885.2" cy="750.5" rx="4.6" ry="5.5" fill="#0000ff"/><circle cx="1885.2" cy="750.2" r="1.2" fill="#c8d0ff"/>
</g>
<g clip-path="url(#cf)">
<path d="M1398.1,744.2 C1403.7,743.1 1409,741.9 1414.9,740.8 C1421.3,739.6 1428.4,738.6 1435.1,737.5 C1441.9,736.4 1448.7,735.4 1455.4,734.1 C1462.2,732.8 1468.9,731.1 1475.6,729.7 C1482.3,728.3 1489.1,726.9 1495.8,725.7 C1502.5,724.5 1509.3,723.3 1516,722.3 C1522.7,721.3 1529.5,720.5 1536.2,719.6 C1542.9,718.8 1549.7,718 1556.4,717.2 C1563.1,716.4 1569.9,715.6 1576.6,714.9 C1583.3,714.2 1590.1,713.2 1596.8,712.9 C1603.5,712.6 1610.3,712.6 1617,712.9 C1623.7,713.2 1630.5,714 1637.2,714.9 C1643.9,715.8 1650.7,716.8 1657.4,718.3 C1664.2,719.8 1670.9,721.9 1677.6,724 C1684.4,726.1 1691.3,729.3 1697.8,730.7 C1703.6,731.9 1709.5,733.1 1714.7,732.4 C1719.5,731.8 1723.9,729.9 1728.2,727.3 C1732.9,724.5 1737.4,720.4 1741.6,715.6 C1746.5,710 1750.8,702.6 1755.1,695.4 C1759.8,687.5 1763.9,678 1768.6,670.1 C1772.9,662.9 1776.8,654.5 1782,649.9 C1786.1,646.3 1791.4,642.8 1795.5,643.1 C1799.2,643.3 1802.7,646.4 1805.6,649.9 C1809.9,655.1 1812.7,665.6 1815.8,673.5 C1818.9,681.3 1821.7,688.8 1824.2,697 C1826.8,705.6 1828.1,716 1830.9,724 C1833.3,730.9 1835.6,738.2 1839.3,742.5 C1842.1,745.8 1845.4,747.8 1849.4,749.2 C1854.1,750.9 1860.1,750.5 1866.3,750.9 C1873.7,751.4 1882.8,751.6 1891,751.9" stroke="#ff0000" stroke-width="1.4" fill="none"/>
<ellipse cx="1396.6" cy="744.2" rx="3.7" ry="4.7" fill="#fff" stroke="#ff0000" stroke-width="1.9"/>
<ellipse cx="1404.2" cy="742.9" rx="3.7" ry="4.7" fill="#fff" stroke="#ff0000" stroke-width="1.9"/>
<ellipse cx="1411.9" cy="741.4" rx="3.7" ry="4.7" fill="#fff" stroke="#ff0000" stroke-width="1.9"/>
<ellipse cx="1419.5" cy="740" rx="3.7" ry="4.7" fill="#fff" stroke="#ff0000" stroke-width="1.9"/>
<ellipse cx="1427.1" cy="738.8" rx="3.7" ry="4.7" fill="#fff" stroke="#ff0000" stroke-width="1.9"/>
<ellipse cx="1434.8" cy="737.6" rx="3.7" ry="4.7" fill="#fff" stroke="#ff0000" stroke-width="1.9"/>
<ellipse cx="1442.4" cy="736.3" rx="3.7" ry="4.7" fill="#fff" stroke="#ff0000" stroke-width="1.9"/>
<ellipse cx="1450" cy="735.1" rx="3.7" ry="4.7" fill="#fff" stroke="#ff0000" stroke-width="1.9"/>
<ellipse cx="1457.7" cy="733.6" rx="3.7" ry="4.7" fill="#fff" stroke="#ff0000" stroke-width="1.9"/>
<ellipse cx="1465.3" cy="732" rx="3.7" ry="4.7" fill="#fff" stroke="#ff0000" stroke-width="1.9"/>
<ellipse cx="1472.9" cy="730.3" rx="3.7" ry="4.7" fill="#fff" stroke="#ff0000" stroke-width="1.9"/>
<ellipse cx="1480.6" cy="728.7" rx="3.7" ry="4.7" fill="#fff" stroke="#ff0000" stroke-width="1.9"/>
<ellipse cx="1488.2" cy="727.1" rx="3.7" ry="4.7" fill="#fff" stroke="#ff0000" stroke-width="1.9"/>
<ellipse cx="1495.9" cy="725.7" rx="3.7" ry="4.7" fill="#fff" stroke="#ff0000" stroke-width="1.9"/>
<ellipse cx="1503.5" cy="724.3" rx="3.7" ry="4.7" fill="#fff" stroke="#ff0000" stroke-width="1.9"/>
<ellipse cx="1511.1" cy="723.1" rx="3.7" ry="4.7" fill="#fff" stroke="#ff0000" stroke-width="1.9"/>
<ellipse cx="1518.8" cy="721.9" rx="3.7" ry="4.7" fill="#fff" stroke="#ff0000" stroke-width="1.9"/>
<ellipse cx="1526.4" cy="720.8" rx="3.7" ry="4.7" fill="#fff" stroke="#ff0000" stroke-width="1.9"/>
<ellipse cx="1534" cy="719.9" rx="3.7" ry="4.7" fill="#fff" stroke="#ff0000" stroke-width="1.9"/>
<ellipse cx="1541.7" cy="718.9" rx="3.7" ry="4.7" fill="#fff" stroke="#ff0000" stroke-width="1.9"/>
<ellipse cx="1549.3" cy="718" rx="3.7" ry="4.7" fill="#fff" stroke="#ff0000" stroke-width="1.9"/>
<ellipse cx="1556.9" cy="717.1" rx="3.7" ry="4.7" fill="#fff" stroke="#ff0000" stroke-width="1.9"/>
<ellipse cx="1564.6" cy="716.2" rx="3.7" ry="4.7" fill="#fff" stroke="#ff0000" stroke-width="1.9"/>
<ellipse cx="1572.2" cy="715.4" rx="3.7" ry="4.7" fill="#fff" stroke="#ff0000" stroke-width="1.9"/>
<ellipse cx="1579.8" cy="714.5" rx="3.7" ry="4.7" fill="#fff" stroke="#ff0000" stroke-width="1.9"/>
<ellipse cx="1587.5" cy="713.7" rx="3.7" ry="4.7" fill="#fff" stroke="#ff0000" stroke-width="1.9"/>
<ellipse cx="1595.1" cy="713" rx="3.7" ry="4.7" fill="#fff" stroke="#ff0000" stroke-width="1.9"/>
<ellipse cx="1602.7" cy="712.7" rx="3.7" ry="4.7" fill="#fff" stroke="#ff0000" stroke-width="1.9"/>
<ellipse cx="1610.4" cy="712.7" rx="3.7" ry="4.7" fill="#fff" stroke="#ff0000" stroke-width="1.9"/>
<ellipse cx="1618" cy="713" rx="3.7" ry="4.7" fill="#fff" stroke="#ff0000" stroke-width="1.9"/>
<ellipse cx="1625.6" cy="713.5" rx="3.7" ry="4.7" fill="#fff" stroke="#ff0000" stroke-width="1.9"/>
<ellipse cx="1633.3" cy="714.4" rx="3.7" ry="4.7" fill="#fff" stroke="#ff0000" stroke-width="1.9"/>
<ellipse cx="1640.9" cy="715.4" rx="3.7" ry="4.7" fill="#fff" stroke="#ff0000" stroke-width="1.9"/>
<ellipse cx="1648.6" cy="716.6" rx="3.7" ry="4.7" fill="#fff" stroke="#ff0000" stroke-width="1.9"/>
<ellipse cx="1656.2" cy="718" rx="3.7" ry="4.7" fill="#fff" stroke="#ff0000" stroke-width="1.9"/>
<ellipse cx="1663.8" cy="719.9" rx="3.7" ry="4.7" fill="#fff" stroke="#ff0000" stroke-width="1.9"/>
<ellipse cx="1671.5" cy="722.1" rx="3.7" ry="4.7" fill="#fff" stroke="#ff0000" stroke-width="1.9"/>
<ellipse cx="1679.1" cy="724.5" rx="3.7" ry="4.7" fill="#fff" stroke="#ff0000" stroke-width="1.9"/>
<ellipse cx="1686.7" cy="727.2" rx="3.7" ry="4.7" fill="#fff" stroke="#ff0000" stroke-width="1.9"/>
<ellipse cx="1694.4" cy="729.8" rx="3.7" ry="4.7" fill="#fff" stroke="#ff0000" stroke-width="1.9"/>
<ellipse cx="1702" cy="731.6" rx="3.7" ry="4.7" fill="#fff" stroke="#ff0000" stroke-width="1.9"/>
<ellipse cx="1709.6" cy="732.6" rx="3.7" ry="4.7" fill="#fff" stroke="#ff0000" stroke-width="1.9"/>
<ellipse cx="1717.3" cy="731.9" rx="3.7" ry="4.7" fill="#fff" stroke="#ff0000" stroke-width="1.9"/>
<ellipse cx="1724.9" cy="729.1" rx="3.7" ry="4.7" fill="#fff" stroke="#ff0000" stroke-width="1.9"/>
<ellipse cx="1732.5" cy="724.3" rx="3.7" ry="4.7" fill="#fff" stroke="#ff0000" stroke-width="1.9"/>
<ellipse cx="1740.2" cy="717.2" rx="3.7" ry="4.7" fill="#fff" stroke="#ff0000" stroke-width="1.9"/>
<ellipse cx="1747.8" cy="707.3" rx="3.7" ry="4.7" fill="#fff" stroke="#ff0000" stroke-width="1.9"/>
<ellipse cx="1755.4" cy="694.8" rx="3.7" ry="4.7" fill="#fff" stroke="#ff0000" stroke-width="1.9"/>
<ellipse cx="1763.1" cy="680.3" rx="3.7" ry="4.7" fill="#fff" stroke="#ff0000" stroke-width="1.9"/>
<ellipse cx="1770.7" cy="666.4" rx="3.7" ry="4.7" fill="#fff" stroke="#ff0000" stroke-width="1.9"/>
<ellipse cx="1778.3" cy="654" rx="3.7" ry="4.7" fill="#fff" stroke="#ff0000" stroke-width="1.9"/>
<ellipse cx="1786" cy="646.8" rx="3.7" ry="4.7" fill="#fff" stroke="#ff0000" stroke-width="1.9"/>
<ellipse cx="1793.6" cy="643.2" rx="3.7" ry="4.7" fill="#fff" stroke="#ff0000" stroke-width="1.9"/>
<ellipse cx="1801.3" cy="645.6" rx="3.7" ry="4.7" fill="#fff" stroke="#ff0000" stroke-width="1.9"/>
<ellipse cx="1808.9" cy="655.3" rx="3.7" ry="4.7" fill="#fff" stroke="#ff0000" stroke-width="1.9"/>
<ellipse cx="1816.5" cy="675.3" rx="3.7" ry="4.7" fill="#fff" stroke="#ff0000" stroke-width="1.9"/>
<ellipse cx="1824.2" cy="696.9" rx="3.7" ry="4.7" fill="#fff" stroke="#ff0000" stroke-width="1.9"/>
<ellipse cx="1831.8" cy="726.6" rx="3.7" ry="4.7" fill="#fff" stroke="#ff0000" stroke-width="1.9"/>
<ellipse cx="1839.4" cy="742.6" rx="3.7" ry="4.7" fill="#fff" stroke="#ff0000" stroke-width="1.9"/>
<ellipse cx="1847.1" cy="748.3" rx="3.7" ry="4.7" fill="#fff" stroke="#ff0000" stroke-width="1.9"/>
<ellipse cx="1854.7" cy="750.3" rx="3.7" ry="4.7" fill="#fff" stroke="#ff0000" stroke-width="1.9"/>
<ellipse cx="1862.3" cy="750.7" rx="3.7" ry="4.7" fill="#fff" stroke="#ff0000" stroke-width="1.9"/>
<ellipse cx="1870" cy="751.1" rx="3.7" ry="4.7" fill="#fff" stroke="#ff0000" stroke-width="1.9"/>
<ellipse cx="1877.6" cy="751.4" rx="3.7" ry="4.7" fill="#fff" stroke="#ff0000" stroke-width="1.9"/>
<ellipse cx="1885.2" cy="751.7" rx="3.7" ry="4.7" fill="#fff" stroke="#ff0000" stroke-width="1.9"/>
</g>
<rect x="1467.9" y="200.4" width="165.1" height="34.1" fill="#fbe5d6" stroke="#92d050" stroke-width="2"/>
<rect x="1468.7" y="173.6" width="51" height="26.8" fill="#ffff00" stroke="#33557a" stroke-width="2.4"/>
<rect x="1580.6" y="175.4" width="53.2" height="25" fill="#ffff00" stroke="#33557a" stroke-width="2.4"/>
<text x="1490.6" y="195.2" font-family="'Liberation Sans', Arial, sans-serif" font-weight="bold" font-size="21" text-anchor="middle" textLength="23" lengthAdjust="spacingAndGlyphs">HI</text>
<text x="1607.2" y="195.2" font-family="'Liberation Sans', Arial, sans-serif" font-weight="bold" font-size="21" text-anchor="middle" textLength="27.5" lengthAdjust="spacingAndGlyphs">LO</text>
<text x="1504.9" y="225.9" font-family="'Liberation Sans', Arial, sans-serif" font-weight="bold" font-size="24" textLength="86" lengthAdjust="spacingAndGlyphs">Ge-TiO</text>
<text x="1591.2" y="232.7" font-family="'Liberation Sans', Arial, sans-serif" font-weight="bold" font-size="17">2</text>
<line x1="1644.4" y1="197.5" x2="1705.4" y2="197.5" stroke="#0000ff" stroke-width="3"/>
<ellipse cx="1674.5" cy="198" rx="5" ry="5.8" fill="#0000ff"/><circle cx="1673.8" cy="196.8" r="1.3" fill="#c8d0ff"/>
<line x1="1644.4" y1="237.8" x2="1705.4" y2="237.8" stroke="#ff0000" stroke-width="3"/>
<ellipse cx="1674.6" cy="238.5" rx="4.3" ry="5.3" fill="#fff" stroke="#ff0000" stroke-width="1.8"/>
<text x="1711" y="207.9" font-family="'Liberation Sans', Arial, sans-serif" font-weight="bold" font-size="34" fill="#000" textLength="67.5" lengthAdjust="spacingAndGlyphs">+12V</text>
<text x="1713.5" y="245.7" font-family="'Liberation Sans', Arial, sans-serif" font-weight="bold" font-size="34" fill="#000" textLength="58.5" lengthAdjust="spacingAndGlyphs">-12V</text>
<rect x="1491.7" y="399" width="168.4" height="35.6" fill="#fbe5d6" stroke="#92d050" stroke-width="2"/>
<rect x="1490" y="373" width="53" height="26" fill="#ffff00" stroke="#33557a" stroke-width="2.4"/>
<rect x="1604.2" y="374.6" width="54.2" height="24.4" fill="#ffff00" stroke="#33557a" stroke-width="2.4"/>
<text x="1512.8" y="393.8" font-family="'Liberation Sans', Arial, sans-serif" font-weight="bold" font-size="21" text-anchor="middle" textLength="23" lengthAdjust="spacingAndGlyphs">HI</text>
<text x="1631.3" y="393.8" font-family="'Liberation Sans', Arial, sans-serif" font-weight="bold" font-size="21" text-anchor="middle" textLength="27.5" lengthAdjust="spacingAndGlyphs">LO</text>
<text x="1528.7" y="426" font-family="'Liberation Sans', Arial, sans-serif" font-weight="bold" font-size="24" textLength="86" lengthAdjust="spacingAndGlyphs">Ge-TiO</text>
<text x="1615" y="432.8" font-family="'Liberation Sans', Arial, sans-serif" font-weight="bold" font-size="17">2</text>
<rect x="1581.7" y="362.8" width="74.1" height="5.8" fill="#000"/>
<text x="1418.5" y="348.2" font-family="'Liberation Sans', Arial, sans-serif" font-weight="bold" font-size="34.5" fill="#ff0000" textLength="59.5" lengthAdjust="spacingAndGlyphs">-12V</text>
<text x="1423" y="481.6" font-family="'Liberation Sans', Arial, sans-serif" font-weight="bold" font-size="35" fill="#0000ff" textLength="68.5" lengthAdjust="spacingAndGlyphs">+12V</text>
<rect x="1505.2" y="649.9" width="165.7" height="34.7" fill="#fbe5d6" stroke="#92d050" stroke-width="2"/>
<rect x="1503.2" y="621.9" width="53.2" height="28" fill="#ffff00" stroke="#33557a" stroke-width="2.4"/>
<rect x="1617" y="624.6" width="53.2" height="25.3" fill="#ffff00" stroke="#33557a" stroke-width="2.4"/>
<text x="1526.1" y="644.7" font-family="'Liberation Sans', Arial, sans-serif" font-weight="bold" font-size="21" text-anchor="middle" textLength="23" lengthAdjust="spacingAndGlyphs">HI</text>
<text x="1643.6" y="644.7" font-family="'Liberation Sans', Arial, sans-serif" font-weight="bold" font-size="21" text-anchor="middle" textLength="27.5" lengthAdjust="spacingAndGlyphs">LO</text>
<text x="1542.2" y="676" font-family="'Liberation Sans', Arial, sans-serif" font-weight="bold" font-size="24" textLength="86" lengthAdjust="spacingAndGlyphs">Ge-TiO</text>
<text x="1628.5" y="682.8" font-family="'Liberation Sans', Arial, sans-serif" font-weight="bold" font-size="17">2</text>
<rect x="1504.2" y="610.5" width="74.1" height="5.8" fill="#000"/>
<text x="1403.8" y="599.2" font-family="'Liberation Sans', Arial, sans-serif" font-weight="bold" font-size="35" fill="#0000ff" textLength="68.5" lengthAdjust="spacingAndGlyphs">+12V</text>
<text x="1418.5" y="723.5" font-family="'Liberation Sans', Arial, sans-serif" font-weight="bold" font-size="34.5" fill="#ff0000" textLength="59.5" lengthAdjust="spacingAndGlyphs">-12V</text>
<line x1="1396.6" y1="12.2" x2="1396.6" y2="24.2" stroke="#000" stroke-width="2"/>
<line x1="1434.8" y1="12.2" x2="1434.8" y2="17.7" stroke="#000" stroke-width="2"/>
<line x1="1472.9" y1="12.2" x2="1472.9" y2="17.7" stroke="#000" stroke-width="2"/>
<line x1="1511.1" y1="12.2" x2="1511.1" y2="17.7" stroke="#000" stroke-width="2"/>
<line x1="1549.3" y1="12.2" x2="1549.3" y2="24.2" stroke="#000" stroke-width="2"/>
<line x1="1587.5" y1="12.2" x2="1587.5" y2="17.7" stroke="#000" stroke-width="2"/>
<line x1="1625.6" y1="12.2" x2="1625.6" y2="17.7" stroke="#000" stroke-width="2"/>
<line x1="1663.8" y1="12.2" x2="1663.8" y2="17.7" stroke="#000" stroke-width="2"/>
<line x1="1702" y1="12.2" x2="1702" y2="24.2" stroke="#000" stroke-width="2"/>
<line x1="1740.2" y1="12.2" x2="1740.2" y2="17.7" stroke="#000" stroke-width="2"/>
<line x1="1778.3" y1="12.2" x2="1778.3" y2="17.7" stroke="#000" stroke-width="2"/>
<line x1="1816.5" y1="12.2" x2="1816.5" y2="17.7" stroke="#000" stroke-width="2"/>
<line x1="1854.7" y1="12.2" x2="1854.7" y2="24.2" stroke="#000" stroke-width="2"/>
<line x1="1892.9" y1="12.2" x2="1892.9" y2="17.7" stroke="#000" stroke-width="2"/>
<line x1="1396.7" y1="259.5" x2="1387.2" y2="259.5" stroke="#000" stroke-width="2"/>
<line x1="1892.4" y1="259.5" x2="1882.9" y2="259.5" stroke="#000" stroke-width="2"/>
<line x1="1396.7" y1="247.6" x2="1391.2" y2="247.6" stroke="#000" stroke-width="2"/>
<line x1="1892.4" y1="247.6" x2="1886.9" y2="247.6" stroke="#000" stroke-width="2"/>
<line x1="1396.7" y1="235.8" x2="1391.2" y2="235.8" stroke="#000" stroke-width="2"/>
<line x1="1892.4" y1="235.8" x2="1886.9" y2="235.8" stroke="#000" stroke-width="2"/>
<line x1="1396.7" y1="223.9" x2="1391.2" y2="223.9" stroke="#000" stroke-width="2"/>
<line x1="1892.4" y1="223.9" x2="1886.9" y2="223.9" stroke="#000" stroke-width="2"/>
<line x1="1396.7" y1="212.1" x2="1387.2" y2="212.1" stroke="#000" stroke-width="2"/>
<line x1="1892.4" y1="212.1" x2="1882.9" y2="212.1" stroke="#000" stroke-width="2"/>
<line x1="1396.7" y1="200.2" x2="1391.2" y2="200.2" stroke="#000" stroke-width="2"/>
<line x1="1892.4" y1="200.2" x2="1886.9" y2="200.2" stroke="#000" stroke-width="2"/>
<line x1="1396.7" y1="188.3" x2="1391.2" y2="188.3" stroke="#000" stroke-width="2"/>
<line x1="1892.4" y1="188.3" x2="1886.9" y2="188.3" stroke="#000" stroke-width="2"/>
<line x1="1396.7" y1="176.5" x2="1391.2" y2="176.5" stroke="#000" stroke-width="2"/>
<line x1="1892.4" y1="176.5" x2="1886.9" y2="176.5" stroke="#000" stroke-width="2"/>
<line x1="1396.7" y1="164.6" x2="1387.2" y2="164.6" stroke="#000" stroke-width="2"/>
<line x1="1892.4" y1="164.6" x2="1882.9" y2="164.6" stroke="#000" stroke-width="2"/>
<line x1="1396.7" y1="152.7" x2="1391.2" y2="152.7" stroke="#000" stroke-width="2"/>
<line x1="1892.4" y1="152.7" x2="1886.9" y2="152.7" stroke="#000" stroke-width="2"/>
<line x1="1396.7" y1="140.9" x2="1391.2" y2="140.9" stroke="#000" stroke-width="2"/>
<line x1="1892.4" y1="140.9" x2="1886.9" y2="140.9" stroke="#000" stroke-width="2"/>
<line x1="1396.7" y1="129" x2="1391.2" y2="129" stroke="#000" stroke-width="2"/>
<line x1="1892.4" y1="129" x2="1886.9" y2="129" stroke="#000" stroke-width="2"/>
<line x1="1396.7" y1="117.2" x2="1387.2" y2="117.2" stroke="#000" stroke-width="2"/>
<line x1="1892.4" y1="117.2" x2="1882.9" y2="117.2" stroke="#000" stroke-width="2"/>
<line x1="1396.7" y1="105.3" x2="1391.2" y2="105.3" stroke="#000" stroke-width="2"/>
<line x1="1892.4" y1="105.3" x2="1886.9" y2="105.3" stroke="#000" stroke-width="2"/>
<line x1="1396.7" y1="93.4" x2="1391.2" y2="93.4" stroke="#000" stroke-width="2"/>
<line x1="1892.4" y1="93.4" x2="1886.9" y2="93.4" stroke="#000" stroke-width="2"/>
<line x1="1396.7" y1="81.6" x2="1391.2" y2="81.6" stroke="#000" stroke-width="2"/>
<line x1="1892.4" y1="81.6" x2="1886.9" y2="81.6" stroke="#000" stroke-width="2"/>
<line x1="1396.7" y1="69.7" x2="1387.2" y2="69.7" stroke="#000" stroke-width="2"/>
<line x1="1892.4" y1="69.7" x2="1882.9" y2="69.7" stroke="#000" stroke-width="2"/>
<line x1="1396.7" y1="57.8" x2="1391.2" y2="57.8" stroke="#000" stroke-width="2"/>
<line x1="1892.4" y1="57.8" x2="1886.9" y2="57.8" stroke="#000" stroke-width="2"/>
<line x1="1396.7" y1="46" x2="1391.2" y2="46" stroke="#000" stroke-width="2"/>
<line x1="1892.4" y1="46" x2="1886.9" y2="46" stroke="#000" stroke-width="2"/>
<line x1="1396.7" y1="34.1" x2="1391.2" y2="34.1" stroke="#000" stroke-width="2"/>
<line x1="1892.4" y1="34.1" x2="1886.9" y2="34.1" stroke="#000" stroke-width="2"/>
<line x1="1396.7" y1="22.2" x2="1387.2" y2="22.2" stroke="#000" stroke-width="2"/>
<line x1="1892.4" y1="22.2" x2="1882.9" y2="22.2" stroke="#000" stroke-width="2"/>
<text x="1379.6" y="222.1" font-family="'Liberation Sans', Arial, sans-serif" font-weight="bold" font-size="36.2" text-anchor="end" textLength="37.5" lengthAdjust="spacingAndGlyphs">50</text>
<text x="1379.6" y="174.6" font-family="'Liberation Sans', Arial, sans-serif" font-weight="bold" font-size="36.2" text-anchor="end" textLength="56.5" lengthAdjust="spacingAndGlyphs">100</text>
<text x="1379.6" y="127.2" font-family="'Liberation Sans', Arial, sans-serif" font-weight="bold" font-size="36.2" text-anchor="end" textLength="56.5" lengthAdjust="spacingAndGlyphs">150</text>
<text x="1379.6" y="79.7" font-family="'Liberation Sans', Arial, sans-serif" font-weight="bold" font-size="36.2" text-anchor="end" textLength="56.5" lengthAdjust="spacingAndGlyphs">200</text>
<text x="1379.6" y="32.2" font-family="'Liberation Sans', Arial, sans-serif" font-weight="bold" font-size="36.2" text-anchor="end" textLength="56.5" lengthAdjust="spacingAndGlyphs">250</text>
<line x1="1396.6" y1="259.5" x2="1396.6" y2="271.5" stroke="#000" stroke-width="2"/>
<line x1="1434.8" y1="259.5" x2="1434.8" y2="265" stroke="#000" stroke-width="2"/>
<line x1="1472.9" y1="259.5" x2="1472.9" y2="265" stroke="#000" stroke-width="2"/>
<line x1="1511.1" y1="259.5" x2="1511.1" y2="265" stroke="#000" stroke-width="2"/>
<line x1="1549.3" y1="259.5" x2="1549.3" y2="271.5" stroke="#000" stroke-width="2"/>
<line x1="1587.5" y1="259.5" x2="1587.5" y2="265" stroke="#000" stroke-width="2"/>
<line x1="1625.6" y1="259.5" x2="1625.6" y2="265" stroke="#000" stroke-width="2"/>
<line x1="1663.8" y1="259.5" x2="1663.8" y2="265" stroke="#000" stroke-width="2"/>
<line x1="1702" y1="259.5" x2="1702" y2="271.5" stroke="#000" stroke-width="2"/>
<line x1="1740.2" y1="259.5" x2="1740.2" y2="265" stroke="#000" stroke-width="2"/>
<line x1="1778.3" y1="259.5" x2="1778.3" y2="265" stroke="#000" stroke-width="2"/>
<line x1="1816.5" y1="259.5" x2="1816.5" y2="265" stroke="#000" stroke-width="2"/>
<line x1="1854.7" y1="259.5" x2="1854.7" y2="271.5" stroke="#000" stroke-width="2"/>
<line x1="1892.9" y1="259.5" x2="1892.9" y2="265" stroke="#000" stroke-width="2"/>
<line x1="1396.7" y1="507.2" x2="1387.2" y2="507.2" stroke="#000" stroke-width="2"/>
<line x1="1892.4" y1="507.2" x2="1882.9" y2="507.2" stroke="#000" stroke-width="2"/>
<line x1="1396.7" y1="483.5" x2="1391.2" y2="483.5" stroke="#000" stroke-width="2"/>
<line x1="1892.4" y1="483.5" x2="1886.9" y2="483.5" stroke="#000" stroke-width="2"/>
<line x1="1396.7" y1="459.8" x2="1387.2" y2="459.8" stroke="#000" stroke-width="2"/>
<line x1="1892.4" y1="459.8" x2="1882.9" y2="459.8" stroke="#000" stroke-width="2"/>
<line x1="1396.7" y1="436" x2="1391.2" y2="436" stroke="#000" stroke-width="2"/>
<line x1="1892.4" y1="436" x2="1886.9" y2="436" stroke="#000" stroke-width="2"/>
<line x1="1396.7" y1="412.3" x2="1387.2" y2="412.3" stroke="#000" stroke-width="2"/>
<line x1="1892.4" y1="412.3" x2="1882.9" y2="412.3" stroke="#000" stroke-width="2"/>
<line x1="1396.7" y1="388.6" x2="1391.2" y2="388.6" stroke="#000" stroke-width="2"/>
<line x1="1892.4" y1="388.6" x2="1886.9" y2="388.6" stroke="#000" stroke-width="2"/>
<line x1="1396.7" y1="364.9" x2="1387.2" y2="364.9" stroke="#000" stroke-width="2"/>
<line x1="1892.4" y1="364.9" x2="1882.9" y2="364.9" stroke="#000" stroke-width="2"/>
<line x1="1396.7" y1="341.1" x2="1391.2" y2="341.1" stroke="#000" stroke-width="2"/>
<line x1="1892.4" y1="341.1" x2="1886.9" y2="341.1" stroke="#000" stroke-width="2"/>
<line x1="1396.7" y1="317.4" x2="1387.2" y2="317.4" stroke="#000" stroke-width="2"/>
<line x1="1892.4" y1="317.4" x2="1882.9" y2="317.4" stroke="#000" stroke-width="2"/>
<line x1="1396.7" y1="293.7" x2="1391.2" y2="293.7" stroke="#000" stroke-width="2"/>
<line x1="1892.4" y1="293.7" x2="1886.9" y2="293.7" stroke="#000" stroke-width="2"/>
<line x1="1396.7" y1="269.9" x2="1387.2" y2="269.9" stroke="#000" stroke-width="2"/>
<line x1="1892.4" y1="269.9" x2="1882.9" y2="269.9" stroke="#000" stroke-width="2"/>
<text x="1379.6" y="469.8" font-family="'Liberation Sans', Arial, sans-serif" font-weight="bold" font-size="36.2" text-anchor="end" textLength="37.5" lengthAdjust="spacingAndGlyphs">50</text>
<text x="1379.6" y="422.3" font-family="'Liberation Sans', Arial, sans-serif" font-weight="bold" font-size="36.2" text-anchor="end" textLength="56.5" lengthAdjust="spacingAndGlyphs">100</text>
<text x="1379.6" y="374.9" font-family="'Liberation Sans', Arial, sans-serif" font-weight="bold" font-size="36.2" text-anchor="end" textLength="56.5" lengthAdjust="spacingAndGlyphs">150</text>
<text x="1379.6" y="327.4" font-family="'Liberation Sans', Arial, sans-serif" font-weight="bold" font-size="36.2" text-anchor="end" textLength="56.5" lengthAdjust="spacingAndGlyphs">200</text>
<text x="1379.6" y="279.9" font-family="'Liberation Sans', Arial, sans-serif" font-weight="bold" font-size="36.2" text-anchor="end" textLength="56.5" lengthAdjust="spacingAndGlyphs">250</text>
<line x1="1396.6" y1="507.2" x2="1396.6" y2="519.2" stroke="#000" stroke-width="2"/>
<line x1="1396.6" y1="754.4" x2="1396.6" y2="769.9" stroke="#000" stroke-width="2"/>
<line x1="1434.8" y1="507.2" x2="1434.8" y2="512.7" stroke="#000" stroke-width="2"/>
<line x1="1434.8" y1="754.4" x2="1434.8" y2="762.9" stroke="#000" stroke-width="2"/>
<line x1="1472.9" y1="507.2" x2="1472.9" y2="512.7" stroke="#000" stroke-width="2"/>
<line x1="1472.9" y1="754.4" x2="1472.9" y2="762.9" stroke="#000" stroke-width="2"/>
<line x1="1511.1" y1="507.2" x2="1511.1" y2="512.7" stroke="#000" stroke-width="2"/>
<line x1="1511.1" y1="754.4" x2="1511.1" y2="762.9" stroke="#000" stroke-width="2"/>
<line x1="1549.3" y1="507.2" x2="1549.3" y2="519.2" stroke="#000" stroke-width="2"/>
<line x1="1549.3" y1="754.4" x2="1549.3" y2="769.9" stroke="#000" stroke-width="2"/>
<line x1="1587.5" y1="507.2" x2="1587.5" y2="512.7" stroke="#000" stroke-width="2"/>
<line x1="1587.5" y1="754.4" x2="1587.5" y2="762.9" stroke="#000" stroke-width="2"/>
<line x1="1625.6" y1="507.2" x2="1625.6" y2="512.7" stroke="#000" stroke-width="2"/>
<line x1="1625.6" y1="754.4" x2="1625.6" y2="762.9" stroke="#000" stroke-width="2"/>
<line x1="1663.8" y1="507.2" x2="1663.8" y2="512.7" stroke="#000" stroke-width="2"/>
<line x1="1663.8" y1="754.4" x2="1663.8" y2="762.9" stroke="#000" stroke-width="2"/>
<line x1="1702" y1="507.2" x2="1702" y2="519.2" stroke="#000" stroke-width="2"/>
<line x1="1702" y1="754.4" x2="1702" y2="769.9" stroke="#000" stroke-width="2"/>
<line x1="1740.2" y1="507.2" x2="1740.2" y2="512.7" stroke="#000" stroke-width="2"/>
<line x1="1740.2" y1="754.4" x2="1740.2" y2="762.9" stroke="#000" stroke-width="2"/>
<line x1="1778.3" y1="507.2" x2="1778.3" y2="512.7" stroke="#000" stroke-width="2"/>
<line x1="1778.3" y1="754.4" x2="1778.3" y2="762.9" stroke="#000" stroke-width="2"/>
<line x1="1816.5" y1="507.2" x2="1816.5" y2="512.7" stroke="#000" stroke-width="2"/>
<line x1="1816.5" y1="754.4" x2="1816.5" y2="762.9" stroke="#000" stroke-width="2"/>
<line x1="1854.7" y1="507.2" x2="1854.7" y2="519.2" stroke="#000" stroke-width="2"/>
<line x1="1854.7" y1="754.4" x2="1854.7" y2="769.9" stroke="#000" stroke-width="2"/>
<line x1="1892.9" y1="507.2" x2="1892.9" y2="512.7" stroke="#000" stroke-width="2"/>
<line x1="1892.9" y1="754.4" x2="1892.9" y2="762.9" stroke="#000" stroke-width="2"/>
<line x1="1396.7" y1="754.3" x2="1381.9" y2="754.3" stroke="#000" stroke-width="2"/>
<line x1="1892.4" y1="754.3" x2="1880.4" y2="754.3" stroke="#000" stroke-width="2"/>
<line x1="1396.7" y1="740.2" x2="1389.1" y2="740.2" stroke="#000" stroke-width="2"/>
<line x1="1892.4" y1="740.2" x2="1886.9" y2="740.2" stroke="#000" stroke-width="2"/>
<line x1="1396.7" y1="726.2" x2="1389.1" y2="726.2" stroke="#000" stroke-width="2"/>
<line x1="1892.4" y1="726.2" x2="1886.9" y2="726.2" stroke="#000" stroke-width="2"/>
<line x1="1396.7" y1="712.1" x2="1389.1" y2="712.1" stroke="#000" stroke-width="2"/>
<line x1="1892.4" y1="712.1" x2="1886.9" y2="712.1" stroke="#000" stroke-width="2"/>
<line x1="1396.7" y1="698.1" x2="1381.9" y2="698.1" stroke="#000" stroke-width="2"/>
<line x1="1892.4" y1="698.1" x2="1880.4" y2="698.1" stroke="#000" stroke-width="2"/>
<line x1="1396.7" y1="684" x2="1389.1" y2="684" stroke="#000" stroke-width="2"/>
<line x1="1892.4" y1="684" x2="1886.9" y2="684" stroke="#000" stroke-width="2"/>
<line x1="1396.7" y1="670" x2="1389.1" y2="670" stroke="#000" stroke-width="2"/>
<line x1="1892.4" y1="670" x2="1886.9" y2="670" stroke="#000" stroke-width="2"/>
<line x1="1396.7" y1="655.9" x2="1389.1" y2="655.9" stroke="#000" stroke-width="2"/>
<line x1="1892.4" y1="655.9" x2="1886.9" y2="655.9" stroke="#000" stroke-width="2"/>
<line x1="1396.7" y1="641.9" x2="1381.9" y2="641.9" stroke="#000" stroke-width="2"/>
<line x1="1892.4" y1="641.9" x2="1880.4" y2="641.9" stroke="#000" stroke-width="2"/>
<line x1="1396.7" y1="627.8" x2="1389.1" y2="627.8" stroke="#000" stroke-width="2"/>
<line x1="1892.4" y1="627.8" x2="1886.9" y2="627.8" stroke="#000" stroke-width="2"/>
<line x1="1396.7" y1="613.8" x2="1389.1" y2="613.8" stroke="#000" stroke-width="2"/>
<line x1="1892.4" y1="613.8" x2="1886.9" y2="613.8" stroke="#000" stroke-width="2"/>
<line x1="1396.7" y1="599.8" x2="1389.1" y2="599.8" stroke="#000" stroke-width="2"/>
<line x1="1892.4" y1="599.8" x2="1886.9" y2="599.8" stroke="#000" stroke-width="2"/>
<line x1="1396.7" y1="585.7" x2="1381.9" y2="585.7" stroke="#000" stroke-width="2"/>
<line x1="1892.4" y1="585.7" x2="1880.4" y2="585.7" stroke="#000" stroke-width="2"/>
<line x1="1396.7" y1="571.6" x2="1389.1" y2="571.6" stroke="#000" stroke-width="2"/>
<line x1="1892.4" y1="571.6" x2="1886.9" y2="571.6" stroke="#000" stroke-width="2"/>
<line x1="1396.7" y1="557.6" x2="1389.1" y2="557.6" stroke="#000" stroke-width="2"/>
<line x1="1892.4" y1="557.6" x2="1886.9" y2="557.6" stroke="#000" stroke-width="2"/>
<line x1="1396.7" y1="543.5" x2="1389.1" y2="543.5" stroke="#000" stroke-width="2"/>
<line x1="1892.4" y1="543.5" x2="1886.9" y2="543.5" stroke="#000" stroke-width="2"/>
<line x1="1396.7" y1="529.5" x2="1381.9" y2="529.5" stroke="#000" stroke-width="2"/>
<line x1="1892.4" y1="529.5" x2="1880.4" y2="529.5" stroke="#000" stroke-width="2"/>
<line x1="1396.7" y1="515.4" x2="1389.1" y2="515.4" stroke="#000" stroke-width="2"/>
<line x1="1892.4" y1="515.4" x2="1886.9" y2="515.4" stroke="#000" stroke-width="2"/>
<text x="1374.2" y="708.1" font-family="'Liberation Sans', Arial, sans-serif" font-weight="bold" font-size="36.2" text-anchor="end" textLength="37.5" lengthAdjust="spacingAndGlyphs">50</text>
<text x="1374.2" y="651.9" font-family="'Liberation Sans', Arial, sans-serif" font-weight="bold" font-size="36.2" text-anchor="end" textLength="56.5" lengthAdjust="spacingAndGlyphs">100</text>
<text x="1374.2" y="595.7" font-family="'Liberation Sans', Arial, sans-serif" font-weight="bold" font-size="36.2" text-anchor="end" textLength="56.5" lengthAdjust="spacingAndGlyphs">150</text>
<text x="1374.2" y="539.5" font-family="'Liberation Sans', Arial, sans-serif" font-weight="bold" font-size="36.2" text-anchor="end" textLength="56.5" lengthAdjust="spacingAndGlyphs">200</text>
<rect x="1396.7" y="12.2" width="495.7" height="742.2" fill="none" stroke="#000" stroke-width="2"/>
<line x1="1396.7" y1="259.5" x2="1892.4" y2="259.5" stroke="#000" stroke-width="2"/>
<line x1="1396.7" y1="507.2" x2="1892.4" y2="507.2" stroke="#000" stroke-width="2"/>
<text x="1397.1" y="805.4" font-family="'Liberation Sans', Arial, sans-serif" font-weight="bold" font-size="34" text-anchor="middle" textLength="58.5" lengthAdjust="spacingAndGlyphs">600</text>
<text x="1549.8" y="805.4" font-family="'Liberation Sans', Arial, sans-serif" font-weight="bold" font-size="34" text-anchor="middle" textLength="58.5" lengthAdjust="spacingAndGlyphs">800</text>
<text x="1702.5" y="805.4" font-family="'Liberation Sans', Arial, sans-serif" font-weight="bold" font-size="34" text-anchor="middle" textLength="77" lengthAdjust="spacingAndGlyphs">1000</text>
<text x="1855.2" y="805.4" font-family="'Liberation Sans', Arial, sans-serif" font-weight="bold" font-size="34" text-anchor="middle" textLength="77" lengthAdjust="spacingAndGlyphs">1200</text>
<text x="1563" y="849.8" font-family="'Liberation Sans', Arial, sans-serif" font-weight="bold" font-size="37.5" textLength="25" lengthAdjust="spacingAndGlyphs">&#955;</text>
<text x="1593.6" y="849.8" font-family="'Liberation Sans', Arial, sans-serif" font-weight="bold" font-size="41" textLength="85" lengthAdjust="spacingAndGlyphs">(nm)</text>
<text transform="translate(1299.5,432) rotate(-90)" font-family="'Liberation Sans', Arial, sans-serif" font-weight="bold" font-style="italic" font-size="40">I</text>
<text transform="translate(1309,416.5) rotate(-90)" font-family="'Liberation Sans', Arial, sans-serif" font-weight="bold" font-style="italic" font-size="30">ph</text>
<text transform="translate(1299.5,365.5) rotate(-90)" font-family="'Liberation Sans', Arial, sans-serif" font-weight="bold" font-size="40" textLength="97" lengthAdjust="spacingAndGlyphs">(a.u.)</text>
<text x="1827.6" y="66.6" font-family="'Liberation Sans', Arial, sans-serif" font-weight="bold" font-size="44" textLength="55.2" lengthAdjust="spacingAndGlyphs">(d)</text>
<text x="1829" y="317.6" font-family="'Liberation Sans', Arial, sans-serif" font-weight="bold" font-size="44" textLength="53.2" lengthAdjust="spacingAndGlyphs">(e)</text>
<text x="1838" y="561.6" font-family="'Liberation Sans', Arial, sans-serif" font-weight="bold" font-size="44" textLength="44.8" lengthAdjust="spacingAndGlyphs">(f)</text>
</svg>
</body></html>
